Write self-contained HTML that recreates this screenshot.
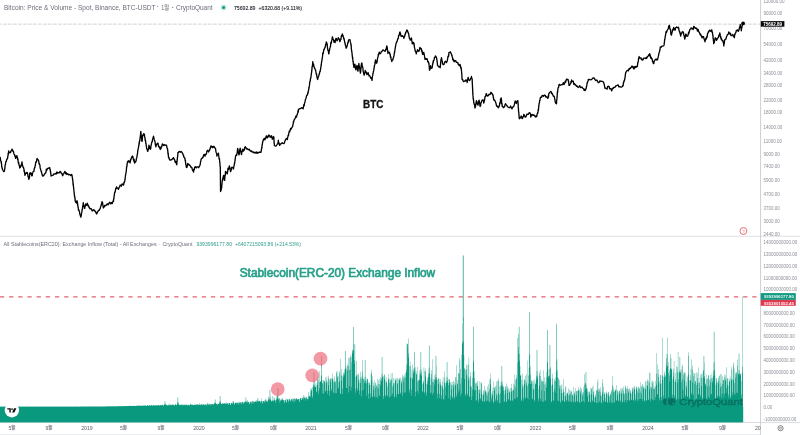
<!DOCTYPE html>
<html><head><meta charset="utf-8"><title>chart</title>
<style>
html,body{margin:0;padding:0;background:#fff;}
body{width:800px;height:435px;overflow:hidden;font-family:"Liberation Sans",sans-serif;}
svg{display:block;position:absolute;left:0;top:0;}
text{font-family:"Liberation Sans",sans-serif;}
</style></head><body>
<svg width="800" height="435" viewBox="0 0 800 435" style="will-change:transform">
<rect width="800" height="435" fill="#ffffff"/>

<!-- separators / axes -->
<line x1="0" y1="434.6" x2="760" y2="434.6" stroke="#e4e6ea" stroke-width="0.8"/>
<line x1="0" y1="236.3" x2="800" y2="236.3" stroke="#dfe1e6" stroke-width="1"/>
<line x1="0" y1="422.4" x2="800" y2="422.4" stroke="#d3d6dc" stroke-width="0.9"/>
<line x1="760.6" y1="0" x2="760.6" y2="435" stroke="#bfc2c9" stroke-width="0.8"/>

<!-- top dashed price line -->
<line x1="-2" y1="24.15" x2="760" y2="24.15" stroke="#cfcfcf" stroke-width="0.9" stroke-dasharray="3.8 1.2"/>

<!-- BTC price line -->
<path d="M0.00,159.17 L0.22,157.45 L0.44,159.91 L0.65,160.09 L0.87,161.05 L1.09,162.09 L1.29,161.81 L1.44,163.84 L1.59,164.28 L1.74,167.08 L1.88,166.82 L2.03,167.31 L2.18,168.24 L2.33,168.86 L2.48,169.48 L3.08,170.54 L3.82,171.68 L4.31,171.14 L4.44,171.08 L4.57,169.38 L4.69,168.65 L4.82,168.82 L4.95,167.23 L5.07,165.61 L5.20,164.94 L5.33,164.56 L5.46,164.59 L5.70,162.24 L6.03,161.42 L6.37,161.46 L6.70,159.30 L7.03,158.88 L7.37,158.87 L7.62,157.79 L7.79,156.57 L7.97,156.09 L8.15,153.44 L8.32,154.57 L8.50,152.30 L8.67,150.92 L9.10,152.04 L9.83,152.86 L10.54,152.50 L10.84,151.21 L11.14,151.13 L11.44,150.23 L11.74,150.40 L12.04,149.15 L12.38,149.60 L12.73,151.07 L13.07,150.98 L13.41,151.31 L13.76,153.20 L14.06,154.04 L14.35,154.34 L14.65,154.79 L14.95,156.35 L15.25,155.73 L15.55,158.35 L16.24,157.63 L16.93,155.56 L17.21,157.40 L17.42,157.56 L17.62,159.64 L17.83,158.68 L18.03,160.22 L18.24,162.23 L18.44,163.42 L18.65,162.19 L18.87,164.01 L19.16,165.44 L19.44,165.64 L19.72,168.04 L20.01,166.94 L20.34,167.43 L20.67,165.61 L21.01,166.49 L21.34,164.66 L21.67,163.58 L22.01,161.80 L22.26,164.81 L22.51,165.02 L22.75,165.89 L22.99,167.03 L23.23,167.34 L23.48,167.52 L23.72,168.27 L23.92,169.15 L24.10,171.55 L24.27,170.45 L24.45,171.94 L24.63,173.01 L24.80,174.28 L24.98,175.40 L25.29,174.12 L25.71,172.99 L26.13,173.40 L26.56,173.46 L26.98,172.35 L27.23,172.50 L27.43,173.01 L27.64,174.31 L27.84,174.81 L28.05,176.43 L28.25,176.18 L28.46,177.71 L28.66,178.41 L28.86,179.36 L29.04,178.26 L29.21,178.52 L29.39,177.39 L29.57,176.50 L29.74,173.27 L29.92,173.45 L30.14,172.57 L30.70,174.07 L31.27,173.10 L31.83,175.92 L32.24,175.69 L32.54,173.19 L32.84,172.56 L33.14,171.84 L33.43,171.58 L33.73,171.15 L33.98,171.14 L34.19,168.82 L34.41,168.63 L34.63,167.33 L34.85,167.58 L35.07,165.99 L35.32,165.56 L35.58,162.99 L35.83,162.75 L36.09,161.45 L36.34,162.21 L36.60,160.75 L36.85,159.22 L37.12,158.36 L37.58,159.79 L38.03,159.74 L38.48,160.36 L38.89,162.14 L39.09,163.98 L39.30,163.39 L39.50,164.05 L39.71,164.49 L39.91,165.25 L40.11,167.43 L40.32,168.54 L40.52,168.82 L40.75,169.92 L40.98,170.64 L41.21,171.53 L41.44,171.23 L41.67,172.85 L41.90,174.12 L42.14,174.36 L42.37,175.44 L42.60,176.07 L43.15,175.75 L43.72,175.88 L44.28,174.29 L44.77,173.72 L45.15,173.58 L45.53,172.65 L45.91,172.57 L46.29,169.27 L46.78,170.41 L47.29,168.74 L47.81,168.43 L48.40,168.25 L49.09,167.85 L49.66,167.57 L49.82,167.84 L49.99,169.74 L50.15,169.30 L50.31,170.28 L50.48,171.83 L50.64,171.77 L50.80,174.34 L50.96,174.64 L51.13,176.11 L51.29,175.67 L51.70,175.63 L52.38,175.43 L53.06,175.24 L53.85,173.89 L54.66,174.17 L55.43,173.43 L56.15,174.03 L56.87,171.90 L57.57,173.25 L58.25,172.66 L58.93,172.95 L59.52,172.45 L60.11,171.44 L60.70,171.83 L61.20,173.20 L61.70,173.34 L62.20,174.41 L62.70,175.75 L63.26,174.10 L63.82,173.34 L64.39,172.31 L64.96,171.38 L65.56,173.71 L66.15,172.63 L66.89,174.48 L67.76,173.77 L68.53,174.76 L69.20,174.52 L69.88,174.58 L70.64,175.47 L71.47,174.47 L71.98,174.93 L72.10,175.98 L72.22,176.75 L72.33,177.60 L72.45,178.05 L72.57,179.39 L72.69,179.11 L72.80,181.20 L72.92,181.36 L73.04,183.87 L73.16,184.87 L73.26,183.58 L73.36,185.87 L73.46,186.58 L73.56,186.83 L73.66,188.83 L73.76,189.03 L73.86,189.01 L73.96,190.95 L74.05,191.93 L74.15,193.00 L74.25,192.96 L74.35,195.15 L74.46,196.12 L74.61,195.69 L74.76,196.92 L74.90,198.22 L75.05,198.76 L75.20,201.27 L75.35,201.08 L75.50,201.12 L75.64,202.16 L76.01,202.41 L76.47,202.98 L76.94,200.78 L77.25,200.96 L77.36,202.13 L77.48,202.63 L77.60,204.85 L77.72,204.07 L77.84,205.86 L77.96,206.34 L78.08,207.55 L78.20,207.19 L78.46,210.11 L78.72,209.65 L78.98,210.62 L79.23,210.80 L79.49,211.81 L79.76,213.58 L80.04,214.73 L80.33,215.42 L80.61,216.59 L80.89,217.10 L81.07,216.08 L81.22,215.76 L81.37,214.70 L81.51,213.33 L81.66,213.02 L81.81,212.52 L81.96,210.90 L82.11,209.60 L82.26,209.46 L82.42,209.37 L82.58,207.04 L82.74,206.24 L82.90,205.32 L83.06,205.39 L83.24,202.54 L83.54,204.93 L83.84,206.36 L84.14,205.80 L84.44,208.26 L84.73,208.30 L84.96,206.67 L85.19,206.33 L85.43,204.24 L85.66,204.05 L86.38,205.35 L87.25,203.23 L87.84,205.43 L88.09,204.94 L88.34,206.56 L88.60,206.76 L88.85,206.29 L89.36,207.87 L90.09,208.93 L90.81,208.53 L91.45,209.03 L92.08,210.86 L92.72,210.79 L93.56,209.76 L94.40,210.15 L95.05,211.55 L95.56,211.35 L96.08,213.08 L96.64,213.97 L97.37,212.40 L98.10,211.07 L98.59,210.20 L99.01,210.30 L99.43,210.14 L99.86,208.92 L100.27,208.32 L100.57,206.77 L100.86,206.45 L101.16,205.06 L101.45,204.31 L101.75,202.78 L102.05,201.73 L102.31,202.15 L102.51,202.59 L102.70,203.58 L102.90,205.60 L103.09,205.93 L103.38,207.97 L104.14,206.84 L104.90,205.27 L105.67,205.78 L106.43,205.01 L107.19,203.80 L108.06,204.81 L108.93,203.28 L109.79,202.26 L110.64,203.84 L111.50,202.56 L112.24,203.52 L112.97,201.50 L113.36,200.40 L113.49,201.42 L113.63,198.69 L113.76,198.70 L113.89,198.68 L114.03,196.86 L114.16,195.83 L114.29,195.07 L114.43,194.69 L114.56,192.65 L114.69,192.75 L114.89,191.85 L115.21,191.91 L115.54,189.54 L115.87,188.29 L116.19,188.61 L116.52,186.98 L117.18,187.94 L117.86,188.42 L118.50,189.26 L119.06,187.28 L119.62,186.98 L120.18,185.04 L120.81,185.06 L121.44,186.13 L122.08,183.94 L122.67,184.15 L123.23,184.49 L123.53,185.11 L123.79,183.96 L124.05,182.14 L124.31,182.58 L124.57,181.43 L124.82,180.92 L124.95,179.05 L125.07,179.82 L125.20,178.00 L125.33,176.74 L125.45,175.57 L125.58,174.87 L125.71,174.75 L125.84,173.07 L125.96,173.12 L126.09,171.89 L126.22,171.53 L126.35,170.27 L126.47,168.76 L126.60,166.61 L126.73,167.23 L126.85,166.69 L126.98,165.36 L127.11,164.74 L127.24,163.13 L127.46,162.33 L127.86,161.13 L128.27,161.94 L128.67,160.68 L129.07,161.03 L129.47,161.25 L129.85,162.67 L130.07,162.91 L130.29,161.35 L130.51,159.65 L130.73,160.28 L130.94,159.41 L131.23,158.25 L131.64,157.31 L132.04,156.76 L132.41,155.98 L132.69,157.00 L132.98,156.76 L133.26,159.21 L133.55,159.18 L133.83,161.17 L134.12,159.42 L134.40,162.07 L134.69,163.12 L135.03,162.27 L135.43,162.02 L135.83,161.42 L136.15,160.47 L136.33,158.81 L136.51,158.20 L136.68,158.13 L136.86,157.43 L137.04,155.72 L137.21,154.83 L137.38,154.03 L137.53,153.73 L137.68,151.37 L137.82,150.29 L137.97,150.42 L138.12,148.67 L138.27,148.15 L138.42,147.73 L138.56,147.12 L138.73,145.15 L138.91,145.58 L139.09,142.90 L139.26,143.64 L139.44,141.27 L139.62,140.60 L139.79,141.06 L139.92,139.43 L140.02,138.27 L140.12,137.62 L140.23,137.36 L140.33,136.10 L140.43,135.22 L140.53,135.09 L140.63,132.96 L140.74,132.23 L140.84,131.30 L140.93,133.16 L141.02,133.93 L141.11,135.03 L141.20,135.00 L141.29,135.81 L141.38,137.41 L141.47,137.44 L141.56,139.19 L141.65,140.01 L141.74,139.91 L141.83,141.24 L141.95,140.89 L142.09,141.30 L142.24,140.50 L142.38,138.24 L142.52,137.43 L142.66,135.23 L142.80,135.79 L143.26,134.91 L143.89,133.53 L144.23,135.20 L144.40,134.43 L144.58,136.26 L144.76,137.39 L144.93,137.30 L145.11,139.66 L145.29,140.68 L145.45,139.86 L145.59,140.73 L145.74,143.02 L145.89,143.47 L146.04,143.53 L146.19,145.06 L146.33,146.08 L146.48,146.94 L146.65,148.50 L147.06,148.99 L147.46,150.77 L147.86,151.30 L148.08,149.97 L148.30,149.38 L148.52,148.68 L148.74,147.37 L148.96,145.15 L149.19,146.14 L149.47,146.45 L149.76,148.38 L150.04,148.17 L150.33,149.33 L150.52,148.59 L150.70,148.66 L150.88,146.72 L151.05,145.53 L151.23,145.05 L151.41,143.64 L151.58,143.18 L151.81,142.19 L152.05,141.52 L152.29,141.76 L152.54,139.31 L152.78,138.76 L153.02,137.73 L153.26,137.47 L153.51,136.18 L153.77,137.38 L154.03,138.70 L154.29,139.97 L154.55,140.42 L154.81,140.96 L155.01,141.58 L155.19,143.43 L155.36,144.97 L155.54,145.06 L155.72,145.85 L155.89,146.90 L156.23,145.09 L156.56,144.70 L156.90,143.89 L157.23,143.45 L157.59,143.23 L157.97,143.22 L158.35,145.67 L158.73,146.88 L159.11,146.33 L159.51,147.60 L159.91,148.31 L160.32,149.48 L160.66,147.41 L161.00,148.73 L161.33,146.44 L161.67,146.82 L162.00,145.16 L162.34,143.99 L162.98,144.40 L163.72,145.65 L164.52,144.74 L165.42,145.08 L166.12,145.35 L166.58,145.26 L167.05,148.14 L167.44,148.43 L167.54,148.90 L167.64,150.63 L167.75,150.04 L167.85,151.55 L167.95,153.70 L168.05,154.07 L168.15,152.98 L168.26,153.88 L168.36,155.34 L168.55,157.69 L168.88,157.45 L169.22,158.46 L169.55,159.88 L169.89,159.67 L170.58,160.06 L171.31,159.94 L172.04,159.19 L172.77,158.62 L173.48,157.53 L173.94,159.08 L174.40,159.19 L174.87,161.18 L175.23,162.39 L175.57,161.40 L175.91,161.45 L176.26,163.28 L176.60,164.68 L176.76,164.72 L176.86,163.85 L176.95,161.65 L177.05,160.75 L177.14,161.29 L177.24,158.75 L177.33,159.38 L177.43,157.56 L177.52,157.36 L177.62,156.43 L177.71,155.58 L177.81,154.72 L177.90,152.55 L178.24,152.65 L178.77,151.72 L179.35,151.36 L180.21,152.26 L181.03,151.52 L181.60,151.91 L182.16,152.60 L182.72,153.60 L183.15,155.12 L183.49,154.86 L183.82,157.08 L184.15,157.31 L184.49,157.78 L184.82,157.84 L185.06,159.81 L185.24,161.00 L185.42,160.17 L185.59,163.12 L185.77,164.32 L185.95,164.29 L186.12,165.28 L186.30,167.12 L186.48,167.56 L186.65,166.95 L186.90,167.34 L187.18,166.39 L187.47,165.54 L187.75,163.49 L188.15,164.78 L188.91,164.28 L189.68,165.32 L190.29,165.75 L190.81,167.19 L191.32,167.11 L191.82,167.51 L192.25,169.23 L192.67,170.63 L193.10,170.22 L193.51,172.03 L193.80,170.40 L194.08,168.99 L194.37,169.58 L194.65,167.08 L194.94,167.51 L195.59,166.72 L196.32,167.91 L197.09,166.88 L197.92,166.81 L198.67,167.69 L199.26,166.39 L199.84,165.60 L200.13,164.44 L200.31,164.17 L200.48,162.00 L200.66,161.31 L200.84,161.10 L201.01,159.75 L201.19,158.96 L201.66,158.67 L202.29,157.99 L202.70,157.15 L202.98,157.62 L203.26,156.31 L203.55,155.60 L203.86,154.30 L204.27,154.77 L204.67,154.91 L205.05,156.25 L205.34,154.34 L205.62,154.38 L205.91,154.47 L206.19,154.21 L206.57,152.94 L206.97,150.85 L207.37,151.00 L207.92,150.20 L208.56,151.97 L208.96,150.96 L209.24,150.79 L209.53,150.63 L209.81,149.13 L210.14,148.95 L210.61,147.00 L211.07,145.87 L211.53,146.28 L212.00,147.33 L212.46,146.50 L212.92,147.72 L213.56,146.40 L214.25,146.69 L214.70,147.72 L214.99,147.89 L215.27,148.41 L215.56,148.67 L215.83,150.77 L216.05,151.95 L216.27,152.68 L216.48,153.31 L216.70,153.12 L216.92,156.11 L217.28,155.00 L217.80,154.21 L218.30,154.17 L218.47,153.24 L218.63,155.38 L218.80,156.21 L218.96,157.46 L219.12,159.02 L219.29,159.30 L219.45,158.57 L219.58,160.50 L219.67,161.78 L219.76,162.63 L219.85,162.53 L219.94,163.16 L220.03,165.60 L220.12,166.35 L220.21,166.99 L220.30,166.70 L220.31,170.04 L220.32,168.40 L220.33,170.35 L220.34,172.80 L220.35,172.29 L220.36,173.47 L220.37,173.38 L220.38,176.05 L220.39,175.10 L220.40,177.08 L220.41,177.90 L220.41,177.97 L220.42,180.22 L220.43,179.51 L220.44,180.92 L220.45,182.28 L220.46,182.91 L220.47,184.43 L220.48,185.65 L220.49,185.70 L220.50,186.42 L220.51,187.34 L220.52,188.35 L220.53,190.07 L220.54,190.25 L220.55,191.59 L220.68,191.16 L220.91,189.77 L221.14,190.09 L221.37,187.89 L221.58,187.75 L221.68,187.89 L221.78,185.19 L221.88,185.02 L221.99,183.06 L222.09,182.92 L222.19,181.33 L222.29,181.23 L222.39,180.21 L222.50,179.79 L222.65,179.92 L222.88,178.14 L223.12,177.53 L223.35,176.17 L223.58,175.33 L223.75,175.80 L223.93,176.00 L224.10,178.19 L224.28,180.17 L224.46,180.24 L224.60,179.68 L224.71,180.32 L224.81,177.97 L224.91,176.94 L225.01,175.63 L225.11,174.91 L225.22,174.52 L225.32,175.10 L225.42,172.76 L225.52,171.29 L225.84,171.70 L226.31,172.74 L226.77,172.47 L227.13,173.94 L227.31,173.46 L227.48,172.31 L227.66,171.62 L227.84,169.42 L228.01,168.25 L228.38,169.53 L228.85,168.62 L229.31,166.01 L229.65,167.17 L229.83,167.92 L230.00,169.17 L230.18,169.82 L230.36,170.20 L230.53,171.57 L230.83,171.14 L231.16,170.16 L231.50,168.06 L231.83,167.22 L232.24,167.50 L232.88,167.55 L233.38,169.08 L233.56,168.52 L233.74,167.32 L233.91,166.00 L234.09,165.42 L234.27,165.31 L234.44,163.10 L234.61,163.37 L234.75,162.33 L234.90,161.13 L235.04,161.07 L235.18,158.67 L235.32,158.94 L235.47,156.74 L235.65,155.98 L236.11,155.00 L236.58,155.29 L237.04,153.54 L237.16,153.36 L237.23,151.63 L237.30,152.27 L237.37,151.91 L237.44,149.89 L237.52,149.98 L237.59,148.33 L237.73,149.95 L237.88,149.60 L238.02,149.32 L238.17,152.35 L238.32,152.11 L238.47,152.36 L238.61,153.51 L238.76,153.72 L238.92,154.87 L239.10,153.35 L239.28,154.26 L239.45,152.80 L239.63,150.29 L239.81,149.52 L239.98,149.29 L240.17,148.09 L240.39,150.19 L240.61,151.10 L240.83,151.47 L241.05,152.50 L241.26,154.10 L241.48,154.59 L241.70,153.77 L241.92,151.88 L242.14,151.58 L242.36,149.59 L242.57,149.52 L242.95,149.11 L243.35,151.10 L243.75,150.53 L244.02,150.29 L244.24,150.09 L244.46,149.61 L244.68,147.34 L244.89,147.10 L245.11,146.69 L245.57,147.52 L246.04,147.55 L246.50,148.97 L247.25,148.70 L248.11,149.59 L248.58,149.75 L249.04,149.20 L249.50,149.60 L250.23,150.91 L251.06,151.32 L251.70,150.93 L252.21,152.16 L252.73,151.94 L253.32,151.84 L254.16,153.00 L255.00,152.23 L255.78,152.99 L256.54,152.02 L257.30,153.38 L258.03,152.29 L258.76,152.77 L259.57,151.99 L260.40,152.33 L260.81,151.84 L261.04,152.27 L261.28,150.54 L261.51,149.11 L261.70,148.05 L261.82,147.15 L261.94,148.01 L262.06,144.82 L262.17,144.60 L262.29,144.75 L262.41,144.24 L262.53,142.42 L262.65,142.18 L262.93,141.31 L263.21,140.61 L263.49,139.10 L263.78,139.37 L264.25,138.32 L264.89,139.89 L265.39,137.86 L265.80,138.48 L266.20,136.14 L266.71,135.83 L267.34,137.87 L267.84,136.86 L268.18,136.92 L268.53,135.03 L268.88,136.07 L269.30,135.53 L269.74,135.52 L270.18,137.22 L270.88,137.15 L271.52,135.74 L271.92,137.44 L272.32,139.15 L272.72,139.13 L273.13,137.71 L273.53,136.52 L273.73,137.56 L273.80,136.99 L273.87,137.62 L273.94,139.38 L274.01,139.99 L274.08,142.87 L274.15,142.64 L274.22,142.75 L274.29,143.52 L274.37,145.59 L274.44,145.55 L275.27,146.06 L275.92,146.19 L276.38,145.54 L276.85,144.78 L277.28,144.00 L277.63,144.00 L277.97,143.45 L278.32,140.28 L278.61,142.93 L278.86,142.63 L279.11,144.27 L279.37,143.75 L279.62,145.36 L279.98,144.98 L280.38,144.10 L280.79,143.82 L281.44,143.54 L282.26,142.74 L283.08,143.37 L283.89,143.56 L284.44,142.88 L284.81,141.35 L285.19,140.57 L285.57,139.84 L286.23,138.68 L287.09,138.27 L287.41,139.49 L287.65,137.24 L287.88,136.72 L288.11,135.26 L288.34,135.82 L288.57,135.27 L288.81,133.02 L289.04,132.66 L289.30,130.92 L289.71,131.88 L290.11,130.49 L290.60,128.50 L291.12,129.22 L291.64,127.87 L292.17,127.18 L292.69,126.40 L292.87,124.81 L293.03,124.02 L293.18,123.94 L293.34,122.58 L293.49,121.07 L293.64,122.09 L294.04,119.96 L294.74,119.16 L294.99,118.20 L295.24,118.31 L295.49,117.64 L295.73,116.26 L296.52,117.07 L296.91,114.89 L297.14,114.81 L297.37,113.87 L297.61,113.33 L297.84,112.80 L298.07,110.24 L298.30,111.97 L298.53,109.24 L298.79,109.23 L299.36,108.87 L299.98,108.57 L300.71,108.67 L301.45,107.68 L302.27,107.98 L303.09,108.91 L303.45,106.97 L303.68,106.01 L303.92,104.54 L304.16,105.86 L304.39,104.49 L304.63,102.64 L304.86,102.30 L305.07,101.45 L305.28,99.86 L305.49,99.57 L305.70,99.06 L305.91,98.40 L306.12,98.02 L306.40,96.31 L306.86,95.19 L307.33,95.02 L307.78,93.52 L307.95,92.20 L308.13,93.00 L308.31,91.05 L308.48,90.52 L308.66,90.00 L308.84,87.89 L309.01,88.23 L309.16,87.21 L309.31,85.94 L309.46,85.40 L309.61,83.70 L309.75,82.03 L309.90,82.26 L310.05,80.93 L310.20,81.29 L310.35,79.98 L310.49,78.53 L310.64,78.05 L310.79,78.08 L310.94,77.04 L311.09,75.61 L311.23,74.77 L311.38,73.38 L311.53,72.60 L311.64,72.21 L311.75,70.82 L311.86,70.22 L311.98,68.34 L312.09,67.06 L312.20,66.14 L312.31,66.13 L312.42,66.47 L312.53,65.48 L312.65,63.06 L312.76,61.78 L313.00,63.89 L313.29,64.51 L313.57,64.08 L313.86,66.63 L314.19,66.85 L314.59,68.46 L314.99,68.58 L315.33,69.79 L315.51,70.27 L315.69,70.26 L315.86,71.65 L316.04,72.22 L316.22,74.16 L316.39,73.76 L316.59,74.26 L316.87,76.67 L317.16,77.85 L317.44,78.91 L317.73,79.52 L318.01,77.25 L318.30,76.97 L318.58,76.22 L318.86,75.73 L319.13,73.58 L319.34,74.01 L319.56,73.33 L319.78,71.60 L320.00,71.48 L320.22,71.35 L320.39,69.67 L320.54,69.49 L320.69,68.57 L320.84,67.26 L320.98,66.35 L321.13,64.94 L321.28,65.18 L321.43,63.09 L321.57,62.05 L321.70,62.14 L321.83,60.24 L321.95,60.16 L322.08,59.71 L322.21,58.14 L322.34,57.26 L322.46,56.94 L322.59,55.94 L322.72,53.44 L322.89,52.72 L323.18,53.72 L323.46,52.20 L323.75,49.77 L324.03,49.28 L324.32,49.39 L324.60,47.83 L324.88,47.99 L325.17,46.86 L325.42,46.29 L325.64,44.26 L325.86,44.64 L326.08,44.62 L326.29,41.90 L326.51,42.50 L326.68,42.72 L326.83,43.38 L326.97,43.77 L327.12,43.89 L327.27,44.97 L327.42,47.01 L327.57,48.05 L327.71,49.11 L327.87,49.81 L328.05,50.65 L328.22,50.60 L328.40,50.94 L328.58,52.81 L328.75,53.90 L328.93,53.43 L329.11,51.42 L329.28,51.24 L329.46,49.69 L329.63,49.94 L329.81,48.22 L329.99,47.96 L330.16,47.42 L330.34,46.40 L330.52,46.38 L330.69,43.77 L330.88,42.35 L331.09,43.45 L331.30,42.90 L331.51,42.04 L331.72,40.36 L331.93,39.67 L332.14,38.50 L332.37,36.78 L332.77,38.09 L333.17,39.64 L333.57,39.69 L333.97,42.18 L334.38,40.63 L334.78,42.21 L335.08,42.67 L335.37,40.62 L335.65,39.39 L335.94,38.38 L336.38,38.65 L337.02,40.85 L337.54,40.02 L337.94,39.29 L338.34,37.76 L338.70,38.53 L338.99,38.86 L339.27,39.00 L339.56,40.18 L339.84,41.49 L340.13,41.37 L340.41,39.65 L340.69,39.19 L340.98,39.26 L341.26,36.57 L341.55,35.41 L341.83,36.11 L342.12,34.88 L342.40,33.93 L342.69,35.04 L342.97,35.47 L343.26,36.92 L343.54,37.18 L343.77,38.84 L343.99,38.34 L344.21,39.46 L344.43,40.98 L344.65,41.45 L344.87,43.14 L345.04,43.50 L345.22,44.03 L345.40,45.44 L345.57,45.81 L345.75,45.97 L345.92,47.15 L346.10,48.27 L346.32,47.77 L346.53,47.29 L346.75,46.99 L346.97,45.86 L347.19,45.85 L347.42,44.63 L347.70,42.75 L347.99,43.18 L348.27,42.00 L348.56,40.00 L349.12,39.86 L349.75,39.77 L350.02,39.76 L350.19,41.18 L350.37,41.63 L350.55,42.73 L350.72,42.90 L350.89,44.27 L350.99,44.65 L351.09,46.27 L351.20,45.51 L351.30,47.82 L351.40,49.35 L351.50,49.78 L351.61,50.25 L351.71,51.54 L351.81,51.46 L351.92,52.37 L352.04,53.59 L352.16,54.63 L352.27,56.30 L352.39,55.89 L352.51,58.11 L352.63,57.20 L352.75,58.64 L352.87,60.06 L352.99,61.79 L353.11,61.44 L353.23,61.43 L353.34,63.95 L353.46,64.52 L353.58,64.68 L353.70,65.60 L353.82,66.73 L353.99,67.37 L354.22,66.90 L354.46,64.53 L354.69,65.96 L354.91,64.04 L355.05,64.69 L355.19,66.31 L355.33,66.81 L355.48,68.89 L355.62,69.27 L355.76,69.14 L355.91,69.86 L356.08,68.90 L356.26,68.13 L356.43,67.95 L356.61,66.15 L356.79,66.85 L356.95,65.50 L357.09,66.34 L357.23,68.00 L357.38,66.89 L357.52,68.45 L357.66,70.42 L357.80,70.90 L357.94,71.13 L358.06,70.53 L358.18,68.94 L358.29,68.34 L358.41,66.62 L358.53,65.37 L358.65,66.67 L358.77,64.24 L358.89,63.50 L359.04,65.74 L359.19,66.39 L359.34,66.17 L359.49,67.05 L359.65,68.25 L359.80,68.53 L359.95,70.47 L360.10,71.07 L360.26,71.95 L360.41,73.20 L360.52,72.28 L360.63,72.16 L360.74,71.06 L360.85,67.90 L360.96,68.84 L361.08,66.53 L361.19,65.42 L361.30,66.03 L361.41,64.14 L361.52,63.52 L361.63,63.60 L361.80,62.94 L361.97,63.66 L362.15,65.40 L362.33,66.91 L362.50,67.30 L362.68,66.73 L362.86,68.24 L363.03,69.47 L363.21,71.74 L363.39,71.97 L363.56,72.82 L363.74,73.95 L363.92,73.78 L364.09,75.21 L364.29,75.02 L364.51,73.12 L364.73,72.92 L364.95,72.45 L365.17,70.43 L365.39,70.88 L365.66,71.48 L365.95,72.53 L366.23,72.11 L366.52,73.59 L366.97,74.68 L367.60,73.58 L368.12,72.56 L368.52,74.07 L368.93,75.72 L369.42,75.41 L370.06,76.36 L370.57,78.09 L370.90,77.63 L371.23,78.41 L371.57,78.62 L371.90,79.70 L372.06,80.45 L372.20,78.42 L372.35,76.80 L372.49,76.09 L372.63,75.86 L372.77,75.50 L372.91,73.55 L373.09,73.69 L373.26,71.96 L373.44,71.67 L373.62,70.90 L373.79,70.08 L373.97,68.47 L374.14,67.77 L374.30,67.36 L374.45,65.21 L374.60,65.34 L374.74,64.69 L374.89,64.18 L375.04,62.53 L375.19,61.54 L375.34,60.88 L375.52,59.90 L375.81,61.12 L376.09,62.41 L376.38,63.17 L376.66,63.09 L376.82,62.89 L376.97,60.93 L377.12,61.90 L377.27,60.08 L377.42,59.73 L377.56,57.90 L377.71,57.72 L377.86,57.21 L378.07,56.71 L378.35,54.21 L378.64,54.90 L378.92,53.34 L379.21,52.10 L379.85,53.61 L380.47,53.62 L380.88,52.82 L381.28,51.73 L381.68,51.57 L382.30,50.79 L382.94,50.01 L383.58,50.06 L384.21,51.00 L384.85,51.01 L385.48,50.98 L385.81,49.23 L386.14,49.40 L386.48,47.57 L386.81,45.98 L387.04,47.27 L387.19,47.04 L387.33,48.89 L387.47,50.24 L387.61,50.17 L387.75,51.21 L387.90,53.47 L388.28,52.48 L388.92,51.86 L389.34,52.36 L389.55,52.62 L389.77,53.50 L389.99,54.70 L390.21,54.02 L390.43,57.17 L390.65,56.31 L390.86,57.17 L391.08,59.18 L391.30,59.69 L391.52,59.67 L391.75,61.52 L392.39,59.94 L392.99,59.59 L393.17,58.15 L393.35,57.74 L393.52,57.71 L393.70,56.64 L393.88,55.88 L394.05,55.43 L394.23,53.87 L394.38,52.55 L394.53,51.93 L394.67,52.39 L394.82,50.37 L394.97,49.69 L395.12,48.51 L395.27,47.86 L395.41,47.10 L395.60,45.91 L395.82,44.94 L396.03,43.63 L396.25,42.71 L396.47,42.71 L396.69,42.08 L397.05,41.38 L397.45,39.96 L397.85,38.55 L398.14,38.71 L398.35,37.83 L398.57,35.48 L398.79,36.21 L399.01,35.19 L399.23,35.07 L399.67,32.34 L400.06,31.92 L400.28,34.23 L400.50,33.30 L400.72,34.92 L400.93,35.54 L401.15,36.47 L401.47,35.86 L401.87,36.18 L402.27,36.22 L402.68,35.73 L403.08,36.53 L403.48,36.78 L403.88,38.34 L404.29,36.90 L404.69,36.46 L405.07,33.83 L405.35,34.30 L405.64,32.41 L405.92,32.59 L406.21,31.64 L406.77,30.03 L407.41,30.30 L407.70,31.60 L407.92,32.01 L408.14,32.95 L408.35,32.81 L408.57,33.81 L408.79,34.38 L409.01,36.12 L409.23,37.73 L409.45,38.08 L409.66,38.65 L409.88,38.74 L410.24,40.19 L410.88,39.08 L411.36,37.87 L411.58,38.84 L411.80,40.68 L412.01,41.17 L412.23,43.82 L412.45,43.56 L412.93,42.73 L413.57,42.48 L413.88,44.31 L414.03,43.42 L414.18,45.51 L414.33,46.17 L414.47,47.77 L414.62,48.01 L414.77,48.24 L414.92,49.78 L415.12,50.33 L415.52,51.77 L415.92,51.85 L416.32,53.87 L416.73,51.70 L417.13,51.27 L417.53,49.70 L418.16,50.83 L418.80,51.40 L419.08,50.65 L419.37,50.31 L419.65,48.45 L419.93,47.38 L420.43,48.78 L421.07,48.44 L421.44,48.96 L421.66,51.11 L421.88,51.72 L422.09,50.74 L422.31,52.66 L422.53,54.34 L423.12,53.91 L423.76,52.34 L423.97,54.54 L424.15,53.78 L424.32,55.06 L424.50,56.19 L424.68,56.98 L424.85,58.43 L425.03,59.46 L425.69,58.50 L426.41,59.28 L426.88,58.59 L427.36,59.69 L427.80,61.82 L428.20,61.50 L428.60,62.98 L428.86,62.78 L428.95,63.79 L429.04,64.80 L429.13,65.89 L429.22,66.43 L429.31,67.57 L429.40,68.92 L429.49,70.19 L429.59,70.22 L429.82,69.73 L430.05,69.04 L430.28,66.79 L430.51,65.58 L431.08,67.99 L431.77,68.36 L432.18,67.24 L432.36,66.56 L432.53,64.78 L432.71,63.59 L432.88,63.89 L433.06,61.75 L433.24,62.54 L433.41,60.55 L433.59,60.34 L433.77,60.53 L434.08,59.70 L434.49,57.43 L434.89,57.56 L435.44,55.99 L436.13,56.87 L436.63,58.22 L436.75,59.82 L436.87,59.34 L436.99,61.01 L437.11,61.60 L437.23,61.54 L437.34,63.22 L437.46,65.25 L437.58,65.03 L438.17,66.11 L438.80,66.97 L439.57,66.35 L440.14,67.77 L440.25,67.07 L440.37,66.24 L440.49,65.15 L440.61,63.02 L440.72,62.04 L440.84,61.01 L440.96,60.03 L441.08,59.22 L441.19,59.57 L441.31,59.01 L441.47,57.77 L441.64,59.67 L441.82,59.10 L442.00,60.64 L442.17,61.05 L442.35,61.50 L442.52,63.55 L442.95,64.32 L443.58,64.62 L444.02,64.33 L444.31,63.15 L444.59,62.89 L444.87,61.71 L445.22,61.69 L445.85,61.31 L446.42,62.66 L446.71,62.00 L446.99,61.66 L447.28,60.67 L447.56,59.22 L447.79,57.74 L448.01,56.06 L448.23,56.46 L448.45,56.58 L448.67,55.88 L448.90,52.55 L449.42,52.59 L449.95,52.14 L450.47,51.89 L450.99,53.48 L451.44,54.14 L451.65,54.63 L451.87,55.84 L452.09,55.62 L452.31,56.93 L452.53,57.86 L452.84,59.95 L453.24,58.99 L453.65,60.78 L454.14,61.69 L454.78,60.48 L455.35,61.06 L455.82,60.79 L456.30,62.32 L457.02,62.42 L457.70,62.86 L457.98,62.93 L458.27,64.27 L458.55,64.14 L458.84,65.05 L459.40,65.77 L460.03,64.44 L460.33,65.62 L460.55,66.00 L460.76,67.67 L460.98,68.54 L461.20,67.54 L461.41,70.29 L461.47,70.20 L461.53,71.13 L461.59,71.61 L461.65,73.10 L461.71,72.71 L461.77,73.88 L461.83,74.75 L461.89,76.39 L461.95,77.73 L462.01,78.50 L462.07,79.14 L462.13,79.37 L462.53,79.26 L463.26,81.29 L463.98,81.50 L464.62,81.01 L465.26,81.13 L465.83,79.87 L466.29,80.63 L466.76,80.22 L467.19,82.52 L467.39,81.21 L467.58,79.85 L467.78,79.76 L467.97,77.88 L468.17,77.35 L468.62,79.75 L469.09,79.77 L469.55,80.66 L469.95,80.15 L470.33,79.26 L470.71,78.13 L471.09,78.46 L471.45,76.52 L471.63,77.96 L471.80,78.18 L471.98,78.97 L472.16,78.78 L472.22,79.68 L472.26,82.97 L472.31,83.83 L472.35,83.38 L472.40,84.56 L472.44,85.91 L472.49,85.69 L472.53,88.52 L472.58,87.45 L472.62,88.57 L472.67,88.66 L472.71,91.94 L472.76,91.81 L472.80,93.81 L472.85,92.87 L472.89,94.71 L472.95,95.42 L473.07,96.40 L473.19,98.44 L473.30,99.33 L473.42,99.90 L473.54,99.55 L473.66,101.34 L473.78,102.55 L473.90,102.89 L474.09,103.78 L474.31,104.59 L474.53,104.50 L474.74,106.17 L474.96,108.00 L475.18,107.05 L475.36,106.98 L475.53,106.63 L475.71,104.21 L475.89,104.18 L476.06,102.21 L476.24,102.09 L476.42,100.65 L476.69,101.62 L476.97,102.76 L477.26,103.76 L477.54,104.66 L477.79,103.56 L478.01,105.10 L478.23,102.92 L478.45,101.48 L478.67,100.93 L478.89,100.71 L479.07,100.19 L479.25,101.48 L479.43,102.32 L479.60,103.91 L479.78,103.89 L479.96,105.62 L480.13,106.43 L480.34,105.87 L480.55,105.97 L480.77,104.24 L480.99,102.53 L481.21,102.69 L481.43,101.70 L481.81,100.77 L482.21,100.15 L482.61,100.49 L482.92,99.81 L483.21,100.83 L483.49,101.19 L483.78,103.13 L484.02,102.40 L484.20,100.99 L484.38,99.82 L484.55,100.16 L484.73,99.43 L484.91,96.91 L485.08,96.64 L485.32,96.73 L485.72,96.19 L486.12,93.74 L486.53,93.82 L486.93,95.49 L487.33,95.34 L487.74,96.15 L488.38,95.45 L489.02,94.28 L489.65,94.59 L490.29,94.13 L490.92,92.30 L491.56,92.88 L492.20,94.22 L492.76,94.27 L492.94,95.67 L493.11,95.51 L493.29,97.73 L493.47,97.10 L493.64,99.84 L493.82,99.11 L494.02,99.78 L494.66,100.30 L495.26,101.29 L495.55,102.09 L495.83,102.80 L496.12,103.91 L496.40,105.46 L496.93,106.32 L497.57,106.10 L498.20,107.84 L498.84,106.91 L499.13,106.39 L499.31,105.43 L499.48,105.76 L499.66,103.37 L499.84,102.60 L500.01,103.59 L500.19,103.01 L500.37,101.87 L500.54,99.00 L500.72,99.17 L500.89,98.86 L501.05,98.16 L501.18,97.85 L501.31,99.63 L501.43,99.57 L501.56,100.79 L501.69,103.85 L501.82,103.91 L501.94,103.30 L502.07,104.16 L502.20,106.42 L502.65,106.37 L503.39,107.72 L504.06,107.19 L504.41,106.67 L504.75,106.14 L505.10,104.42 L505.62,103.78 L506.30,104.82 L506.98,105.76 L507.68,106.66 L508.42,107.29 L509.15,107.62 L509.88,107.51 L510.61,106.00 L511.31,107.93 L512.01,108.84 L512.59,107.57 L513.11,106.71 L513.62,106.71 L514.09,105.53 L514.38,104.36 L514.66,103.25 L514.95,102.00 L515.23,100.85 L515.80,102.47 L516.43,103.47 L516.88,101.34 L517.28,101.22 L517.68,100.62 L517.84,100.59 L517.91,101.25 L517.98,102.40 L518.05,102.29 L518.12,104.43 L518.19,105.16 L518.26,107.58 L518.32,107.82 L518.39,107.82 L518.46,108.95 L518.53,111.06 L518.61,111.88 L518.68,111.78 L518.76,112.46 L518.84,112.43 L518.91,114.11 L518.99,115.12 L519.07,115.62 L519.14,118.24 L519.22,116.64 L519.30,118.73 L519.76,118.36 L520.22,117.61 L520.68,117.71 L521.14,115.92 L521.61,117.15 L522.07,118.51 L522.47,118.52 L522.80,117.32 L523.14,116.22 L523.47,116.67 L523.81,114.35 L524.50,115.25 L525.19,117.23 L525.79,116.98 L526.38,115.70 L527.03,114.04 L527.89,114.33 L528.52,114.05 L528.92,113.08 L529.32,112.78 L529.73,113.16 L529.98,112.88 L530.19,113.07 L530.39,113.93 L530.60,114.53 L530.80,117.08 L531.44,114.53 L532.13,115.43 L532.85,114.44 L533.59,115.23 L534.37,115.28 L535.27,117.00 L536.06,116.01 L536.64,116.70 L537.23,113.98 L537.50,113.09 L537.70,113.39 L537.89,112.50 L538.09,111.03 L538.28,109.07 L538.42,110.47 L538.52,108.96 L538.63,107.95 L538.74,106.36 L538.85,106.33 L538.95,104.59 L539.06,104.12 L539.22,103.07 L539.40,103.20 L539.58,101.11 L539.76,100.31 L539.95,100.45 L540.13,98.95 L540.31,97.90 L540.84,97.05 L541.48,97.25 L542.12,95.49 L542.75,95.64 L543.56,96.26 L544.29,95.23 L544.81,95.13 L545.33,95.57 L545.96,97.15 L546.60,96.83 L547.24,97.21 L547.87,98.42 L548.05,97.30 L548.22,97.80 L548.40,95.29 L548.58,96.53 L548.75,94.01 L548.93,93.74 L549.11,93.24 L549.70,92.27 L550.33,91.98 L550.75,91.49 L551.15,91.74 L551.56,93.65 L552.15,93.28 L552.79,94.69 L553.42,96.39 L554.06,96.23 L554.29,96.80 L554.47,97.31 L554.64,98.78 L554.82,99.74 L555.00,99.64 L555.17,101.83 L555.35,101.76 L555.83,103.40 L556.39,103.64 L556.47,103.75 L556.55,102.76 L556.63,101.27 L556.71,100.29 L556.79,99.78 L556.87,99.55 L556.95,98.43 L557.03,96.90 L557.11,96.12 L557.19,96.11 L557.27,92.96 L557.35,93.59 L557.45,91.69 L557.60,92.38 L557.74,90.20 L557.88,89.58 L558.02,88.01 L558.16,87.90 L558.31,87.56 L558.57,87.33 L559.03,84.50 L559.49,84.31 L560.00,85.30 L560.83,85.00 L561.65,84.69 L562.48,84.71 L563.31,82.70 L564.02,84.58 L564.71,82.98 L565.23,81.15 L565.69,82.19 L566.14,80.16 L566.59,79.10 L567.31,79.68 L567.96,79.41 L568.13,79.69 L568.31,80.85 L568.49,80.84 L568.66,81.65 L568.84,84.18 L569.02,85.35 L569.24,85.44 L569.88,84.77 L570.47,83.56 L570.75,82.89 L571.04,81.47 L571.32,82.51 L571.61,80.02 L572.15,80.96 L572.79,81.31 L573.24,81.09 L573.65,84.18 L574.05,83.42 L574.60,83.84 L575.24,85.10 L575.88,85.02 L576.51,86.31 L577.29,86.05 L578.11,87.47 L578.93,87.02 L579.73,85.62 L580.49,87.57 L581.22,87.51 L581.99,87.03 L582.86,88.30 L583.63,88.75 L584.17,90.46 L584.71,89.28 L585.26,90.46 L585.82,89.09 L586.12,88.76 L586.33,87.27 L586.54,86.54 L586.75,86.05 L586.96,83.99 L587.17,82.65 L587.38,83.07 L587.60,81.90 L587.84,81.40 L588.07,80.92 L588.30,79.45 L588.68,79.90 L589.48,79.44 L590.30,79.65 L591.12,79.81 L591.93,79.23 L592.66,78.24 L593.39,77.87 L593.96,77.81 L594.50,78.63 L595.06,79.81 L595.93,80.56 L596.79,79.95 L597.52,81.37 L598.25,82.58 L599.03,82.49 L599.84,80.83 L600.72,81.47 L601.62,81.16 L602.46,81.51 L603.27,81.95 L603.66,82.47 L603.87,83.56 L604.08,83.99 L604.29,84.55 L604.50,85.78 L604.71,86.83 L604.92,88.22 L605.49,88.14 L606.36,88.62 L607.13,89.07 L607.59,86.64 L608.06,86.34 L608.52,86.13 L608.90,86.59 L609.28,86.67 L609.65,88.90 L610.03,88.96 L610.88,88.63 L611.72,90.91 L612.40,88.43 L613.00,88.65 L613.59,87.51 L614.28,87.48 L615.01,87.28 L615.75,85.80 L616.51,85.82 L617.28,85.32 L618.04,84.85 L618.80,86.85 L619.57,86.63 L620.30,86.83 L621.03,87.09 L621.63,87.06 L622.14,86.65 L622.66,85.49 L623.12,85.92 L623.38,82.86 L623.63,81.99 L623.89,82.28 L624.15,80.31 L624.41,80.69 L624.61,79.40 L624.73,79.38 L624.85,78.37 L624.97,78.10 L625.09,76.94 L625.21,76.28 L625.32,74.88 L625.44,74.37 L625.56,73.08 L626.24,71.73 L626.94,70.69 L627.66,70.19 L628.39,70.85 L629.04,68.57 L629.55,69.29 L630.07,67.90 L630.59,68.21 L631.28,67.26 L631.97,66.01 L632.51,67.08 L633.03,66.47 L633.55,68.73 L634.06,68.96 L634.58,66.60 L635.09,67.76 L635.62,66.38 L636.43,66.99 L637.12,66.05 L637.27,66.58 L637.43,65.68 L637.58,64.38 L637.74,62.81 L637.89,63.15 L638.04,62.60 L638.21,61.13 L638.39,60.67 L638.57,58.67 L638.74,58.31 L638.92,57.59 L639.10,56.54 L639.78,58.26 L640.48,57.88 L640.98,57.93 L641.44,59.68 L641.91,59.11 L642.44,60.08 L643.04,59.68 L643.63,58.12 L644.36,58.19 L645.19,58.12 L645.84,58.67 L646.30,57.34 L646.77,58.25 L647.32,56.82 L648.14,55.86 L648.90,54.61 L649.16,55.97 L649.42,54.79 L649.68,53.72 L649.92,54.39 L650.16,55.24 L650.40,55.66 L650.64,58.09 L650.88,57.87 L651.28,57.52 L651.69,58.88 L652.09,58.77 L652.55,61.38 L653.01,62.22 L653.47,63.69 L653.85,63.41 L654.19,60.80 L654.52,60.83 L654.85,60.38 L655.27,59.57 L656.11,58.98 L656.95,60.21 L657.39,59.42 L657.72,59.18 L658.04,57.37 L658.36,56.38 L658.55,55.31 L658.73,54.52 L658.91,53.37 L659.08,52.78 L659.26,52.49 L659.44,51.57 L659.61,51.29 L659.83,50.26 L660.07,49.06 L660.30,46.95 L660.53,47.28 L661.03,47.43 L661.84,46.10 L662.65,46.18 L663.48,45.93 L663.96,45.26 L664.07,44.89 L664.18,43.54 L664.28,43.57 L664.39,41.56 L664.50,41.42 L664.60,40.27 L664.73,39.05 L664.87,39.56 L665.01,37.97 L665.16,37.44 L665.30,35.93 L665.44,35.77 L665.58,34.82 L665.80,33.42 L666.14,31.45 L666.47,32.43 L666.81,31.50 L667.14,30.31 L667.69,29.64 L668.20,28.83 L668.43,28.01 L668.67,26.30 L668.90,26.09 L669.13,25.49 L669.36,25.38 L669.59,26.00 L669.83,28.81 L670.06,28.85 L670.25,29.08 L670.39,29.84 L670.53,29.74 L670.67,30.97 L670.81,32.68 L670.96,34.64 L671.10,33.29 L671.28,34.26 L671.51,35.13 L671.74,33.48 L671.98,32.43 L672.21,32.11 L672.50,30.33 L672.78,29.44 L673.07,29.21 L673.35,28.45 L673.72,27.44 L674.12,30.06 L674.53,28.58 L674.89,29.13 L675.24,30.04 L675.59,27.60 L675.93,27.59 L676.63,26.96 L677.36,27.82 L678.19,27.21 L678.64,27.93 L678.93,29.52 L679.21,31.14 L679.50,31.38 L679.77,32.72 L680.00,32.14 L680.23,34.39 L680.46,34.63 L680.70,36.07 L681.03,34.03 L681.36,33.32 L681.70,33.60 L682.03,32.24 L682.51,31.75 L683.14,31.83 L683.55,33.00 L683.72,34.29 L683.90,35.33 L684.08,35.32 L684.25,36.35 L684.43,37.77 L684.61,37.58 L684.83,39.19 L685.11,37.67 L685.40,36.72 L685.68,34.64 L685.97,33.99 L686.44,35.14 L686.92,36.22 L687.34,36.02 L687.66,36.20 L687.99,35.19 L688.31,34.07 L688.61,32.11 L688.90,33.54 L689.18,31.51 L689.47,31.26 L689.77,29.53 L690.23,29.23 L690.69,28.95 L691.16,27.85 L691.81,28.73 L692.50,28.50 L693.12,29.66 L693.71,26.38 L694.31,26.73 L695.06,28.30 L695.79,27.96 L696.33,28.54 L696.87,28.33 L697.46,31.09 L698.15,29.53 L698.81,31.78 L699.27,32.33 L699.74,33.58 L700.20,34.76 L700.55,34.07 L700.88,34.84 L701.22,36.01 L701.55,35.87 L702.02,37.93 L702.71,36.50 L703.31,36.62 L703.57,36.58 L703.83,38.24 L704.09,38.66 L704.35,39.90 L704.61,40.05 L704.95,41.74 L705.41,39.80 L705.87,38.20 L706.30,39.14 L706.56,37.62 L706.82,36.35 L707.08,37.43 L707.34,35.20 L707.60,33.44 L707.87,33.09 L708.15,32.93 L708.43,31.65 L708.72,31.83 L709.00,30.85 L709.62,30.09 L710.25,31.30 L710.94,31.19 L711.63,29.88 L711.92,30.42 L712.10,32.24 L712.27,32.82 L712.45,32.41 L712.62,33.89 L712.79,34.87 L712.90,35.97 L713.00,36.44 L713.10,38.78 L713.20,38.05 L713.30,38.87 L713.41,40.67 L713.51,40.15 L713.61,41.59 L713.71,43.64 L713.85,42.64 L714.06,42.10 L714.27,42.58 L714.48,41.26 L714.69,40.11 L714.90,39.37 L715.11,37.85 L715.36,37.89 L715.90,38.25 L716.44,40.43 L716.98,39.70 L717.52,38.36 L718.06,37.85 L718.49,37.13 L718.82,35.30 L719.15,34.85 L719.49,35.66 L719.82,32.89 L720.08,34.33 L720.34,36.32 L720.59,37.52 L720.85,36.61 L721.11,39.21 L721.48,38.73 L722.17,40.72 L722.82,40.51 L723.02,40.84 L723.21,42.43 L723.41,43.19 L723.60,43.13 L723.80,45.87 L724.02,43.54 L724.25,43.71 L724.48,41.70 L724.71,39.89 L724.93,39.51 L725.16,39.35 L725.47,39.06 L725.93,39.05 L726.39,37.10 L726.85,36.07 L727.32,34.64 L727.78,34.69 L728.24,34.16 L728.81,31.97 L729.39,33.49 L729.90,33.09 L730.20,34.45 L730.50,33.36 L730.80,34.87 L731.10,35.70 L731.50,35.26 L732.19,35.02 L732.87,34.44 L733.41,36.21 L733.95,36.87 L734.39,37.77 L734.59,35.67 L734.78,34.09 L734.98,34.50 L735.17,33.57 L735.41,32.92 L735.87,32.55 L736.33,30.50 L736.80,30.69 L737.47,29.88 L738.16,31.27 L738.59,31.19 L738.92,29.79 L739.26,29.19 L739.52,27.20 L739.75,26.85 L739.98,26.54 L740.21,24.72 L740.42,24.81 L740.60,27.60 L740.78,27.35 L740.95,27.47 L741.13,28.21 L741.31,30.78 L741.48,28.13 L741.66,28.27 L741.83,28.05 L742.01,26.33 L742.19,26.20 L742.37,24.22 L742.73,24.11 L743.11,23.31" fill="none" stroke="#000" stroke-width="1.32" stroke-linejoin="round" stroke-linecap="round"/>
<circle cx="743.1" cy="23.4" r="1.9" fill="#000"/>
<text x="363.1" y="107.7" font-size="10.4" font-weight="bold" fill="#141414" stroke="#141414" stroke-width="0.3" textLength="20.3" lengthAdjust="spacingAndGlyphs">BTC</text>

<!-- inflow bars -->
<path d="M-0.02,422.2V407.0h0.34V422.2ZM0.29,422.2V407.0h0.34V422.2ZM0.60,422.2V407.0h0.34V422.2ZM0.91,422.2V407.0h0.34V422.2ZM1.22,422.2V406.9h0.34V422.2ZM1.52,422.2V407.0h0.34V422.2ZM1.83,422.2V407.0h0.34V422.2ZM2.14,422.2V406.9h0.34V422.2ZM2.45,422.2V407.0h0.34V422.2ZM2.76,422.2V407.0h0.34V422.2ZM3.06,422.2V407.0h0.34V422.2ZM3.37,422.2V406.9h0.34V422.2ZM3.68,422.2V407.0h0.34V422.2ZM3.99,422.2V407.0h0.34V422.2ZM4.30,422.2V407.0h0.34V422.2ZM4.60,422.2V407.0h0.34V422.2ZM4.91,422.2V407.0h0.34V422.2ZM5.22,422.2V407.0h0.34V422.2ZM5.53,422.2V407.0h0.34V422.2ZM5.84,422.2V407.0h0.34V422.2ZM6.14,422.2V407.0h0.34V422.2ZM6.45,422.2V407.0h0.34V422.2ZM6.76,422.2V406.9h0.34V422.2ZM7.07,422.2V407.0h0.34V422.2ZM7.38,422.2V407.0h0.34V422.2ZM7.68,422.2V407.0h0.34V422.2ZM7.99,422.2V407.0h0.34V422.2ZM8.30,422.2V407.0h0.34V422.2ZM8.61,422.2V407.0h0.34V422.2ZM8.92,422.2V406.9h0.34V422.2ZM9.22,422.2V407.0h0.34V422.2ZM9.53,422.2V406.9h0.34V422.2ZM9.84,422.2V406.9h0.34V422.2ZM10.15,422.2V407.0h0.34V422.2ZM10.46,422.2V407.0h0.34V422.2ZM10.76,422.2V406.9h0.34V422.2ZM11.07,422.2V407.0h0.34V422.2ZM11.38,422.2V406.9h0.34V422.2ZM11.69,422.2V406.9h0.34V422.2ZM12.00,422.2V406.9h0.34V422.2ZM12.30,422.2V407.0h0.34V422.2ZM12.61,422.2V407.0h0.34V422.2ZM12.92,422.2V407.0h0.34V422.2ZM13.23,422.2V406.9h0.34V422.2ZM13.54,422.2V406.9h0.34V422.2ZM13.84,422.2V406.9h0.34V422.2ZM14.15,422.2V406.9h0.34V422.2ZM14.46,422.2V407.0h0.34V422.2ZM14.77,422.2V407.0h0.34V422.2ZM15.08,422.2V406.9h0.34V422.2ZM15.38,422.2V407.0h0.34V422.2ZM15.69,422.2V407.0h0.34V422.2ZM16.00,422.2V406.9h0.34V422.2ZM16.31,422.2V406.9h0.34V422.2ZM16.62,422.2V407.0h0.34V422.2ZM16.92,422.2V407.0h0.34V422.2ZM17.23,422.2V406.9h0.34V422.2ZM17.54,422.2V406.9h0.34V422.2ZM17.85,422.2V406.9h0.34V422.2ZM18.16,422.2V406.9h0.34V422.2ZM18.46,422.2V406.9h0.34V422.2ZM18.77,422.2V407.0h0.34V422.2ZM19.08,422.2V406.9h0.34V422.2ZM19.39,422.2V406.9h0.34V422.2ZM19.70,422.2V406.9h0.34V422.2ZM20.00,422.2V406.9h0.34V422.2ZM20.31,422.2V406.9h0.34V422.2ZM20.62,422.2V406.9h0.34V422.2ZM20.93,422.2V407.0h0.34V422.2ZM21.24,422.2V407.0h0.34V422.2ZM21.54,422.2V406.9h0.34V422.2ZM21.85,422.2V406.9h0.34V422.2ZM22.16,422.2V406.9h0.34V422.2ZM22.47,422.2V406.9h0.34V422.2ZM22.78,422.2V406.9h0.34V422.2ZM23.08,422.2V406.9h0.34V422.2ZM23.39,422.2V407.0h0.34V422.2ZM23.70,422.2V406.9h0.34V422.2ZM24.01,422.2V406.9h0.34V422.2ZM24.32,422.2V406.9h0.34V422.2ZM24.62,422.2V406.9h0.34V422.2ZM24.93,422.2V406.9h0.34V422.2ZM25.24,422.2V406.9h0.34V422.2ZM25.55,422.2V407.0h0.34V422.2ZM25.86,422.2V406.9h0.34V422.2ZM26.16,422.2V406.9h0.34V422.2ZM26.47,422.2V406.9h0.34V422.2ZM26.78,422.2V406.9h0.34V422.2ZM27.09,422.2V406.9h0.34V422.2ZM27.40,422.2V407.0h0.34V422.2ZM27.70,422.2V406.9h0.34V422.2ZM28.01,422.2V406.9h0.34V422.2ZM28.32,422.2V406.9h0.34V422.2ZM28.63,422.2V406.9h0.34V422.2ZM28.94,422.2V406.9h0.34V422.2ZM29.24,422.2V406.9h0.34V422.2ZM29.55,422.2V407.0h0.34V422.2ZM29.86,422.2V406.9h0.34V422.2ZM30.17,422.2V406.9h0.34V422.2ZM30.48,422.2V406.9h0.34V422.2ZM30.78,422.2V406.9h0.34V422.2ZM31.09,422.2V406.9h0.34V422.2ZM31.40,422.2V406.9h0.34V422.2ZM31.71,422.2V407.0h0.34V422.2ZM32.02,422.2V407.0h0.34V422.2ZM32.32,422.2V406.9h0.34V422.2ZM32.63,422.2V406.9h0.34V422.2ZM32.94,422.2V406.9h0.34V422.2ZM33.25,422.2V406.9h0.34V422.2ZM33.56,422.2V406.9h0.34V422.2ZM33.86,422.2V406.9h0.34V422.2ZM34.17,422.2V406.9h0.34V422.2ZM34.48,422.2V406.9h0.34V422.2ZM34.79,422.2V406.9h0.34V422.2ZM35.10,422.2V406.9h0.34V422.2ZM35.40,422.2V406.9h0.34V422.2ZM35.71,422.2V406.9h0.34V422.2ZM36.02,422.2V406.9h0.34V422.2ZM36.33,422.2V406.9h0.34V422.2ZM36.64,422.2V406.9h0.34V422.2ZM36.94,422.2V406.9h0.34V422.2ZM37.25,422.2V406.9h0.34V422.2ZM37.56,422.2V406.9h0.34V422.2ZM37.87,422.2V406.9h0.34V422.2ZM38.18,422.2V406.9h0.34V422.2ZM38.48,422.2V406.9h0.34V422.2ZM38.79,422.2V406.9h0.34V422.2ZM39.10,422.2V406.9h0.34V422.2ZM39.41,422.2V406.9h0.34V422.2ZM39.72,422.2V406.9h0.34V422.2ZM40.02,422.2V406.9h0.34V422.2ZM40.33,422.2V406.9h0.34V422.2ZM40.64,422.2V406.9h0.34V422.2ZM40.95,422.2V406.9h0.34V422.2ZM41.26,422.2V406.9h0.34V422.2ZM41.56,422.2V406.9h0.34V422.2ZM41.87,422.2V406.9h0.34V422.2ZM42.18,422.2V406.9h0.34V422.2ZM42.49,422.2V406.9h0.34V422.2ZM42.80,422.2V406.9h0.34V422.2ZM43.10,422.2V406.9h0.34V422.2ZM43.41,422.2V406.9h0.34V422.2ZM43.72,422.2V406.9h0.34V422.2ZM44.03,422.2V406.9h0.34V422.2ZM44.34,422.2V406.9h0.34V422.2ZM44.64,422.2V406.9h0.34V422.2ZM44.95,422.2V406.9h0.34V422.2ZM45.26,422.2V406.9h0.34V422.2ZM45.57,422.2V406.9h0.34V422.2ZM45.88,422.2V406.9h0.34V422.2ZM46.18,422.2V406.9h0.34V422.2ZM46.49,422.2V406.9h0.34V422.2ZM46.80,422.2V406.9h0.34V422.2ZM47.11,422.2V406.9h0.34V422.2ZM47.42,422.2V406.9h0.34V422.2ZM47.72,422.2V406.9h0.34V422.2ZM48.03,422.2V406.9h0.34V422.2ZM48.34,422.2V406.9h0.34V422.2ZM48.65,422.2V406.9h0.34V422.2ZM48.96,422.2V406.9h0.34V422.2ZM49.26,422.2V406.9h0.34V422.2ZM49.57,422.2V406.9h0.34V422.2ZM49.88,422.2V406.9h0.34V422.2ZM50.19,422.2V406.9h0.34V422.2ZM50.50,422.2V406.9h0.34V422.2ZM50.80,422.2V406.9h0.34V422.2ZM51.11,422.2V406.9h0.34V422.2ZM51.42,422.2V406.9h0.34V422.2ZM51.73,422.2V406.9h0.34V422.2ZM52.04,422.2V406.9h0.34V422.2ZM52.34,422.2V406.9h0.34V422.2ZM52.65,422.2V406.9h0.34V422.2ZM52.96,422.2V406.9h0.34V422.2ZM53.27,422.2V406.9h0.34V422.2ZM53.58,422.2V406.9h0.34V422.2ZM53.88,422.2V406.9h0.34V422.2ZM54.19,422.2V406.9h0.34V422.2ZM54.50,422.2V406.9h0.34V422.2ZM54.81,422.2V406.9h0.34V422.2ZM55.12,422.2V406.9h0.34V422.2ZM55.42,422.2V406.9h0.34V422.2ZM55.73,422.2V406.9h0.34V422.2ZM56.04,422.2V406.9h0.34V422.2ZM56.35,422.2V406.9h0.34V422.2ZM56.66,422.2V406.9h0.34V422.2ZM56.96,422.2V406.9h0.34V422.2ZM57.27,422.2V406.9h0.34V422.2ZM57.58,422.2V406.9h0.34V422.2ZM57.89,422.2V406.9h0.34V422.2ZM58.20,422.2V406.9h0.34V422.2ZM58.50,422.2V406.9h0.34V422.2ZM58.81,422.2V406.9h0.34V422.2ZM59.12,422.2V406.9h0.34V422.2ZM59.43,422.2V406.9h0.34V422.2ZM59.74,422.2V406.9h0.34V422.2ZM60.04,422.2V406.9h0.34V422.2ZM60.35,422.2V406.9h0.34V422.2ZM60.66,422.2V406.9h0.34V422.2ZM60.97,422.2V406.9h0.34V422.2ZM61.28,422.2V406.9h0.34V422.2ZM61.58,422.2V406.9h0.34V422.2ZM61.89,422.2V406.9h0.34V422.2ZM62.20,422.2V406.9h0.34V422.2ZM62.51,422.2V406.9h0.34V422.2ZM62.82,422.2V406.9h0.34V422.2ZM63.12,422.2V406.9h0.34V422.2ZM63.43,422.2V406.9h0.34V422.2ZM63.74,422.2V406.9h0.34V422.2ZM64.05,422.2V406.9h0.34V422.2ZM64.36,422.2V406.9h0.34V422.2ZM64.66,422.2V406.9h0.34V422.2ZM64.97,422.2V406.9h0.34V422.2ZM65.28,422.2V406.9h0.34V422.2ZM65.59,422.2V406.9h0.34V422.2ZM65.90,422.2V406.9h0.34V422.2ZM66.20,422.2V406.9h0.34V422.2ZM66.51,422.2V406.9h0.34V422.2ZM66.82,422.2V406.9h0.34V422.2ZM67.13,422.2V406.9h0.34V422.2ZM67.44,422.2V406.9h0.34V422.2ZM67.74,422.2V406.9h0.34V422.2ZM68.05,422.2V406.9h0.34V422.2ZM68.36,422.2V406.9h0.34V422.2ZM68.67,422.2V406.9h0.34V422.2ZM68.98,422.2V406.9h0.34V422.2ZM69.28,422.2V406.9h0.34V422.2ZM69.59,422.2V406.9h0.34V422.2ZM69.90,422.2V406.9h0.34V422.2ZM70.21,422.2V406.9h0.34V422.2ZM70.52,422.2V406.9h0.34V422.2ZM70.82,422.2V406.9h0.34V422.2ZM71.13,422.2V406.9h0.34V422.2ZM71.44,422.2V406.9h0.34V422.2ZM71.75,422.2V406.9h0.34V422.2ZM72.06,422.2V406.9h0.34V422.2ZM72.36,422.2V406.9h0.34V422.2ZM72.67,422.2V406.9h0.34V422.2ZM72.98,422.2V406.9h0.34V422.2ZM73.29,422.2V406.9h0.34V422.2ZM73.60,422.2V406.9h0.34V422.2ZM73.90,422.2V406.9h0.34V422.2ZM74.21,422.2V406.9h0.34V422.2ZM74.52,422.2V406.9h0.34V422.2ZM74.83,422.2V406.9h0.34V422.2ZM75.14,422.2V406.9h0.34V422.2ZM75.44,422.2V406.9h0.34V422.2ZM75.75,422.2V406.8h0.34V422.2ZM76.06,422.2V406.9h0.34V422.2ZM76.37,422.2V406.9h0.34V422.2ZM76.68,422.2V406.8h0.34V422.2ZM76.98,422.2V406.9h0.34V422.2ZM77.29,422.2V406.9h0.34V422.2ZM77.60,422.2V406.9h0.34V422.2ZM77.91,422.2V406.9h0.34V422.2ZM78.22,422.2V406.9h0.34V422.2ZM78.52,422.2V406.9h0.34V422.2ZM78.83,422.2V406.9h0.34V422.2ZM79.14,422.2V406.9h0.34V422.2ZM79.45,422.2V406.9h0.34V422.2ZM79.76,422.2V406.9h0.34V422.2ZM80.06,422.2V406.9h0.34V422.2ZM80.37,422.2V406.9h0.34V422.2ZM80.68,422.2V406.8h0.34V422.2ZM80.99,422.2V406.8h0.34V422.2ZM81.30,422.2V406.9h0.34V422.2ZM81.60,422.2V406.9h0.34V422.2ZM81.91,422.2V406.8h0.34V422.2ZM82.22,422.2V406.8h0.34V422.2ZM82.53,422.2V406.8h0.34V422.2ZM82.84,422.2V406.9h0.34V422.2ZM83.14,422.2V406.8h0.34V422.2ZM83.45,422.2V406.9h0.34V422.2ZM83.76,422.2V406.9h0.34V422.2ZM84.07,422.2V406.8h0.34V422.2ZM84.38,422.2V406.8h0.34V422.2ZM84.68,422.2V406.8h0.34V422.2ZM84.99,422.2V406.9h0.34V422.2ZM85.30,422.2V406.8h0.34V422.2ZM85.61,422.2V406.9h0.34V422.2ZM85.92,422.2V406.9h0.34V422.2ZM86.22,422.2V406.8h0.34V422.2ZM86.53,422.2V406.8h0.34V422.2ZM86.84,422.2V406.8h0.34V422.2ZM87.15,422.2V406.9h0.34V422.2ZM87.46,422.2V406.8h0.34V422.2ZM87.76,422.2V406.9h0.34V422.2ZM88.07,422.2V406.9h0.34V422.2ZM88.38,422.2V406.8h0.34V422.2ZM88.69,422.2V406.8h0.34V422.2ZM89.00,422.2V406.8h0.34V422.2ZM89.30,422.2V406.9h0.34V422.2ZM89.61,422.2V406.8h0.34V422.2ZM89.92,422.2V406.9h0.34V422.2ZM90.23,422.2V406.8h0.34V422.2ZM90.54,422.2V406.8h0.34V422.2ZM90.84,422.2V406.8h0.34V422.2ZM91.15,422.2V406.8h0.34V422.2ZM91.46,422.2V406.8h0.34V422.2ZM91.77,422.2V406.8h0.34V422.2ZM92.08,422.2V406.9h0.34V422.2ZM92.38,422.2V406.9h0.34V422.2ZM92.69,422.2V406.8h0.34V422.2ZM93.00,422.2V406.8h0.34V422.2ZM93.31,422.2V406.8h0.34V422.2ZM93.62,422.2V406.8h0.34V422.2ZM93.92,422.2V406.8h0.34V422.2ZM94.23,422.2V406.9h0.34V422.2ZM94.54,422.2V406.9h0.34V422.2ZM94.85,422.2V406.8h0.34V422.2ZM95.16,422.2V406.8h0.34V422.2ZM95.46,422.2V406.8h0.34V422.2ZM95.77,422.2V406.8h0.34V422.2ZM96.08,422.2V406.8h0.34V422.2ZM96.39,422.2V406.9h0.34V422.2ZM96.70,422.2V406.9h0.34V422.2ZM97.00,422.2V406.8h0.34V422.2ZM97.31,422.2V406.8h0.34V422.2ZM97.62,422.2V406.8h0.34V422.2ZM97.93,422.2V406.8h0.34V422.2ZM98.24,422.2V406.8h0.34V422.2ZM98.54,422.2V406.9h0.34V422.2ZM98.85,422.2V406.9h0.34V422.2ZM99.16,422.2V406.8h0.34V422.2ZM99.47,422.2V406.7h0.34V422.2ZM99.78,422.2V406.8h0.34V422.2ZM100.08,422.2V406.8h0.34V422.2ZM100.39,422.2V406.7h0.34V422.2ZM100.70,422.2V406.9h0.34V422.2ZM101.01,422.2V406.9h0.34V422.2ZM101.32,422.2V406.7h0.34V422.2ZM101.62,422.2V406.8h0.34V422.2ZM101.93,422.2V406.7h0.34V422.2ZM102.24,422.2V406.7h0.34V422.2ZM102.55,422.2V406.7h0.34V422.2ZM102.86,422.2V406.8h0.34V422.2ZM103.16,422.2V406.7h0.34V422.2ZM103.47,422.2V406.7h0.34V422.2ZM103.78,422.2V406.7h0.34V422.2ZM104.09,422.2V406.7h0.34V422.2ZM104.40,422.2V406.7h0.34V422.2ZM104.70,422.2V406.7h0.34V422.2ZM105.01,422.2V406.8h0.34V422.2ZM105.32,422.2V406.8h0.34V422.2ZM105.63,422.2V406.7h0.34V422.2ZM105.94,422.2V406.7h0.34V422.2ZM106.24,422.2V406.7h0.34V422.2ZM106.55,422.2V406.5h0.34V422.2ZM106.86,422.2V406.6h0.34V422.2ZM107.17,422.2V406.8h0.34V422.2ZM107.48,422.2V406.7h0.34V422.2ZM107.78,422.2V406.6h0.34V422.2ZM108.09,422.2V406.6h0.34V422.2ZM108.40,422.2V406.6h0.34V422.2ZM108.71,422.2V406.6h0.34V422.2ZM109.02,422.2V406.5h0.34V422.2ZM109.32,422.2V406.7h0.34V422.2ZM109.63,422.2V406.6h0.34V422.2ZM109.94,422.2V406.5h0.34V422.2ZM110.25,422.2V406.5h0.34V422.2ZM110.56,422.2V406.6h0.34V422.2ZM110.86,422.2V406.5h0.34V422.2ZM111.17,422.2V406.5h0.34V422.2ZM111.48,422.2V406.5h0.34V422.2ZM111.79,422.2V406.7h0.34V422.2ZM112.10,422.2V406.4h0.34V422.2ZM112.40,422.2V406.5h0.34V422.2ZM112.71,422.2V406.5h0.34V422.2ZM113.02,422.2V406.5h0.34V422.2ZM113.33,422.2V406.4h0.34V422.2ZM113.64,422.2V406.6h0.34V422.2ZM113.94,422.2V406.5h0.34V422.2ZM114.25,422.2V406.4h0.34V422.2ZM114.56,422.2V406.4h0.34V422.2ZM114.87,422.2V406.4h0.34V422.2ZM115.18,422.2V406.4h0.34V422.2ZM115.48,422.2V406.5h0.34V422.2ZM115.79,422.2V406.5h0.34V422.2ZM116.10,422.2V406.6h0.34V422.2ZM116.41,422.2V406.4h0.34V422.2ZM116.72,422.2V406.4h0.34V422.2ZM117.02,422.2V406.3h0.34V422.2ZM117.33,422.2V406.2h0.34V422.2ZM117.64,422.2V406.4h0.34V422.2ZM117.95,422.2V406.6h0.34V422.2ZM118.26,422.2V406.5h0.34V422.2ZM118.56,422.2V406.3h0.34V422.2ZM118.87,422.2V406.3h0.34V422.2ZM119.18,422.2V406.3h0.34V422.2ZM119.49,422.2V406.3h0.34V422.2ZM119.80,422.2V406.3h0.34V422.2ZM120.10,422.2V406.4h0.34V422.2ZM120.41,422.2V406.5h0.34V422.2ZM120.72,422.2V406.2h0.34V422.2ZM121.03,422.2V405.9h0.34V422.2ZM121.34,422.2V406.2h0.34V422.2ZM121.64,422.2V406.3h0.34V422.2ZM121.95,422.2V406.3h0.34V422.2ZM122.26,422.2V406.5h0.34V422.2ZM122.57,422.2V406.5h0.34V422.2ZM122.88,422.2V406.2h0.34V422.2ZM123.18,422.2V406.2h0.34V422.2ZM123.49,422.2V406.2h0.34V422.2ZM123.80,422.2V406.2h0.34V422.2ZM124.11,422.2V406.1h0.34V422.2ZM124.42,422.2V406.3h0.34V422.2ZM124.72,422.2V406.2h0.34V422.2ZM125.03,422.2V406.1h0.34V422.2ZM125.34,422.2V406.1h0.34V422.2ZM125.65,422.2V406.1h0.34V422.2ZM125.96,422.2V406.2h0.34V422.2ZM126.26,422.2V406.2h0.34V422.2ZM126.57,422.2V406.2h0.34V422.2ZM126.88,422.2V406.4h0.34V422.2ZM127.19,422.2V406.1h0.34V422.2ZM127.50,422.2V406.0h0.34V422.2ZM127.80,422.2V406.0h0.34V422.2ZM128.11,422.2V405.9h0.34V422.2ZM128.42,422.2V406.0h0.34V422.2ZM128.73,422.2V406.1h0.34V422.2ZM129.04,422.2V406.3h0.34V422.2ZM129.34,422.2V405.9h0.34V422.2ZM129.65,422.2V406.0h0.34V422.2ZM129.96,422.2V406.0h0.34V422.2ZM130.27,422.2V405.2h0.34V422.2ZM130.58,422.2V406.0h0.34V422.2ZM130.88,422.2V406.1h0.34V422.2ZM131.19,422.2V406.0h0.34V422.2ZM131.50,422.2V406.0h0.34V422.2ZM131.81,422.2V406.0h0.34V422.2ZM132.12,422.2V405.9h0.34V422.2ZM132.42,422.2V405.9h0.34V422.2ZM132.73,422.2V405.7h0.34V422.2ZM133.04,422.2V406.2h0.34V422.2ZM133.35,422.2V406.0h0.34V422.2ZM133.66,422.2V405.8h0.34V422.2ZM133.96,422.2V405.7h0.34V422.2ZM134.27,422.2V405.9h0.34V422.2ZM134.58,422.2V405.8h0.34V422.2ZM134.89,422.2V405.9h0.34V422.2ZM135.20,422.2V406.2h0.34V422.2ZM135.50,422.2V406.0h0.34V422.2ZM135.81,422.2V405.7h0.34V422.2ZM136.12,422.2V405.7h0.34V422.2ZM136.43,422.2V405.7h0.34V422.2ZM136.74,422.2V405.7h0.34V422.2ZM137.04,422.2V405.6h0.34V422.2ZM137.35,422.2V406.0h0.34V422.2ZM137.66,422.2V405.8h0.34V422.2ZM137.97,422.2V405.6h0.34V422.2ZM138.28,422.2V405.6h0.34V422.2ZM138.58,422.2V405.7h0.34V422.2ZM138.89,422.2V405.8h0.34V422.2ZM139.20,422.2V405.5h0.34V422.2ZM139.51,422.2V405.8h0.34V422.2ZM139.82,422.2V405.8h0.34V422.2ZM140.12,422.2V405.6h0.34V422.2ZM140.43,422.2V405.7h0.34V422.2ZM140.74,422.2V405.6h0.34V422.2ZM141.05,422.2V405.7h0.34V422.2ZM141.36,422.2V405.7h0.34V422.2ZM141.66,422.2V405.8h0.34V422.2ZM141.97,422.2V405.8h0.34V422.2ZM142.28,422.2V405.7h0.34V422.2ZM142.59,422.2V405.4h0.34V422.2ZM142.90,422.2V405.4h0.34V422.2ZM143.20,422.2V405.5h0.34V422.2ZM143.51,422.2V405.7h0.34V422.2ZM143.82,422.2V405.8h0.34V422.2ZM144.13,422.2V405.6h0.34V422.2ZM144.44,422.2V405.5h0.34V422.2ZM144.74,422.2V405.5h0.34V422.2ZM145.05,422.2V405.5h0.34V422.2ZM145.36,422.2V405.4h0.34V422.2ZM145.67,422.2V405.4h0.34V422.2ZM145.98,422.2V406.0h0.34V422.2ZM146.28,422.2V406.0h0.34V422.2ZM146.59,422.2V405.4h0.34V422.2ZM146.90,422.2V405.4h0.34V422.2ZM147.21,422.2V405.2h0.34V422.2ZM147.52,422.2V405.2h0.34V422.2ZM147.82,422.2V405.5h0.34V422.2ZM148.13,422.2V405.8h0.34V422.2ZM148.44,422.2V406.0h0.34V422.2ZM148.75,422.2V405.3h0.34V422.2ZM149.06,422.2V405.4h0.34V422.2ZM149.36,422.2V405.1h0.34V422.2ZM149.67,422.2V405.3h0.34V422.2ZM149.98,422.2V405.5h0.34V422.2ZM150.29,422.2V405.7h0.34V422.2ZM150.60,422.2V405.7h0.34V422.2ZM150.90,422.2V405.3h0.34V422.2ZM151.21,422.2V405.1h0.34V422.2ZM151.52,422.2V405.3h0.34V422.2ZM151.83,422.2V405.0h0.34V422.2ZM152.14,422.2V405.3h0.34V422.2ZM152.44,422.2V405.9h0.34V422.2ZM152.75,422.2V406.0h0.34V422.2ZM153.06,422.2V405.1h0.34V422.2ZM153.37,422.2V405.1h0.34V422.2ZM153.68,422.2V405.4h0.34V422.2ZM153.98,422.2V405.3h0.34V422.2ZM154.29,422.2V405.3h0.34V422.2ZM154.60,422.2V405.9h0.34V422.2ZM154.91,422.2V405.5h0.34V422.2ZM155.22,422.2V405.4h0.34V422.2ZM155.52,422.2V405.0h0.34V422.2ZM155.83,422.2V405.2h0.34V422.2ZM156.14,422.2V405.4h0.34V422.2ZM156.45,422.2V405.0h0.34V422.2ZM156.76,422.2V405.8h0.34V422.2ZM157.06,422.2V405.4h0.34V422.2ZM157.37,422.2V405.2h0.34V422.2ZM157.68,422.2V405.2h0.34V422.2ZM157.99,422.2V404.9h0.34V422.2ZM158.30,422.2V405.2h0.34V422.2ZM158.60,422.2V405.1h0.34V422.2ZM158.91,422.2V405.8h0.34V422.2ZM159.22,422.2V405.5h0.34V422.2ZM159.53,422.2V405.3h0.34V422.2ZM159.84,422.2V405.4h0.34V422.2ZM160.14,422.2V404.9h0.34V422.2ZM160.45,422.2V405.2h0.34V422.2ZM160.76,422.2V404.9h0.34V422.2ZM161.07,422.2V405.5h0.34V422.2ZM161.38,422.2V405.5h0.34V422.2ZM161.68,422.2V404.6h0.34V422.2ZM161.99,422.2V404.8h0.34V422.2ZM162.30,422.2V404.9h0.34V422.2ZM162.61,422.2V405.0h0.34V422.2ZM162.92,422.2V404.8h0.34V422.2ZM163.22,422.2V405.8h0.34V422.2ZM163.53,422.2V405.9h0.34V422.2ZM163.84,422.2V404.9h0.34V422.2ZM164.15,422.2V404.4h0.34V422.2ZM164.46,422.2V403.7h0.34V422.2ZM164.68,422.2V401.0h0.5V422.2ZM165.07,422.2V403.5h0.34V422.2ZM165.38,422.2V404.3h0.34V422.2ZM165.69,422.2V404.8h0.34V422.2ZM166.00,422.2V405.0h0.34V422.2ZM166.30,422.2V404.9h0.34V422.2ZM166.61,422.2V404.7h0.34V422.2ZM166.92,422.2V405.0h0.34V422.2ZM167.23,422.2V405.3h0.34V422.2ZM167.54,422.2V405.4h0.34V422.2ZM167.84,422.2V405.9h0.34V422.2ZM168.15,422.2V404.7h0.34V422.2ZM168.46,422.2V404.8h0.34V422.2ZM168.77,422.2V404.9h0.34V422.2ZM169.08,422.2V404.9h0.34V422.2ZM169.38,422.2V403.4h0.34V422.2ZM169.69,422.2V405.5h0.34V422.2ZM170.00,422.2V405.4h0.34V422.2ZM170.31,422.2V404.0h0.34V422.2ZM170.62,422.2V405.0h0.34V422.2ZM170.92,422.2V405.2h0.34V422.2ZM171.23,422.2V404.9h0.34V422.2ZM171.54,422.2V404.7h0.34V422.2ZM171.85,422.2V405.0h0.34V422.2ZM172.16,422.2V404.6h0.34V422.2ZM172.46,422.2V404.8h0.34V422.2ZM172.77,422.2V404.4h0.34V422.2ZM173.08,422.2V404.5h0.34V422.2ZM173.39,422.2V405.2h0.34V422.2ZM173.70,422.2V404.7h0.34V422.2ZM174.00,422.2V405.8h0.34V422.2ZM174.31,422.2V405.6h0.34V422.2ZM174.62,422.2V405.1h0.34V422.2ZM174.93,422.2V404.5h0.34V422.2ZM175.24,422.2V404.1h0.34V422.2ZM175.54,422.2V404.2h0.34V422.2ZM175.85,422.2V404.8h0.34V422.2ZM176.16,422.2V405.6h0.34V422.2ZM176.47,422.2V405.1h0.34V422.2ZM176.78,422.2V404.4h0.34V422.2ZM177.08,422.2V403.5h0.34V422.2ZM177.39,422.2V402.1h0.34V422.2ZM177.62,422.2V397.4h0.5V422.2ZM178.01,422.2V401.8h0.34V422.2ZM178.32,422.2V403.3h0.34V422.2ZM178.62,422.2V404.2h0.34V422.2ZM178.93,422.2V405.1h0.34V422.2ZM179.24,422.2V404.9h0.34V422.2ZM179.55,422.2V404.6h0.34V422.2ZM179.86,422.2V405.1h0.34V422.2ZM180.16,422.2V404.5h0.34V422.2ZM180.47,422.2V405.6h0.34V422.2ZM180.78,422.2V404.9h0.34V422.2ZM181.09,422.2V404.6h0.34V422.2ZM181.40,422.2V404.4h0.34V422.2ZM181.70,422.2V404.8h0.34V422.2ZM182.01,422.2V404.8h0.34V422.2ZM182.32,422.2V404.7h0.34V422.2ZM182.63,422.2V405.2h0.34V422.2ZM182.94,422.2V405.7h0.34V422.2ZM183.24,422.2V405.1h0.34V422.2ZM183.55,422.2V404.4h0.34V422.2ZM183.86,422.2V403.9h0.34V422.2ZM184.17,422.2V404.9h0.34V422.2ZM184.48,422.2V405.1h0.34V422.2ZM184.78,422.2V405.6h0.34V422.2ZM185.09,422.2V404.9h0.34V422.2ZM185.40,422.2V404.6h0.34V422.2ZM185.71,422.2V404.7h0.34V422.2ZM186.02,422.2V404.6h0.34V422.2ZM186.32,422.2V404.8h0.34V422.2ZM186.63,422.2V404.8h0.34V422.2ZM186.94,422.2V405.7h0.34V422.2ZM187.25,422.2V405.5h0.34V422.2ZM187.56,422.2V404.7h0.34V422.2ZM187.86,422.2V404.4h0.34V422.2ZM188.17,422.2V405.0h0.34V422.2ZM188.48,422.2V404.7h0.34V422.2ZM188.79,422.2V404.9h0.34V422.2ZM189.10,422.2V405.6h0.34V422.2ZM189.40,422.2V405.4h0.34V422.2ZM189.71,422.2V404.7h0.34V422.2ZM190.02,422.2V404.8h0.34V422.2ZM190.33,422.2V404.1h0.34V422.2ZM190.64,422.2V403.7h0.34V422.2ZM190.94,422.2V403.9h0.34V422.2ZM191.25,422.2V405.1h0.34V422.2ZM191.56,422.2V405.2h0.34V422.2ZM191.87,422.2V404.6h0.34V422.2ZM192.18,422.2V404.7h0.34V422.2ZM192.48,422.2V404.9h0.34V422.2ZM192.79,422.2V404.5h0.34V422.2ZM193.10,422.2V404.7h0.34V422.2ZM193.41,422.2V405.5h0.34V422.2ZM193.72,422.2V405.0h0.34V422.2ZM194.02,422.2V404.7h0.34V422.2ZM194.33,422.2V404.7h0.34V422.2ZM194.64,422.2V404.8h0.34V422.2ZM194.95,422.2V404.4h0.34V422.2ZM195.26,422.2V404.4h0.34V422.2ZM195.56,422.2V404.9h0.34V422.2ZM195.87,422.2V405.2h0.34V422.2ZM196.18,422.2V404.3h0.34V422.2ZM196.49,422.2V404.7h0.34V422.2ZM196.80,422.2V404.5h0.34V422.2ZM197.10,422.2V404.3h0.34V422.2ZM197.41,422.2V404.0h0.34V422.2ZM197.72,422.2V405.5h0.34V422.2ZM198.03,422.2V405.1h0.34V422.2ZM198.34,422.2V404.6h0.34V422.2ZM198.64,422.2V404.5h0.34V422.2ZM198.95,422.2V404.6h0.34V422.2ZM199.26,422.2V404.9h0.34V422.2ZM199.57,422.2V402.9h0.34V422.2ZM199.88,422.2V405.1h0.34V422.2ZM200.18,422.2V405.2h0.34V422.2ZM200.49,422.2V404.5h0.34V422.2ZM200.80,422.2V404.6h0.34V422.2ZM201.11,422.2V404.1h0.34V422.2ZM201.42,422.2V404.2h0.34V422.2ZM201.72,422.2V404.6h0.34V422.2ZM202.03,422.2V405.6h0.34V422.2ZM202.34,422.2V404.9h0.34V422.2ZM202.65,422.2V404.1h0.34V422.2ZM202.96,422.2V404.5h0.34V422.2ZM203.26,422.2V404.0h0.34V422.2ZM203.57,422.2V404.4h0.34V422.2ZM203.88,422.2V404.1h0.34V422.2ZM204.19,422.2V405.6h0.34V422.2ZM204.50,422.2V404.7h0.34V422.2ZM204.80,422.2V404.7h0.34V422.2ZM205.11,422.2V404.5h0.34V422.2ZM205.42,422.2V404.6h0.34V422.2ZM205.73,422.2V404.6h0.34V422.2ZM206.04,422.2V404.1h0.34V422.2ZM206.34,422.2V405.4h0.34V422.2ZM206.65,422.2V405.3h0.34V422.2ZM206.96,422.2V404.5h0.34V422.2ZM207.27,422.2V404.3h0.34V422.2ZM207.58,422.2V402.7h0.34V422.2ZM207.88,422.2V402.9h0.34V422.2ZM208.19,422.2V404.5h0.34V422.2ZM208.50,422.2V404.7h0.34V422.2ZM208.81,422.2V405.0h0.34V422.2ZM209.12,422.2V403.8h0.34V422.2ZM209.42,422.2V404.2h0.34V422.2ZM209.73,422.2V403.9h0.34V422.2ZM210.04,422.2V403.8h0.34V422.2ZM210.35,422.2V404.0h0.34V422.2ZM210.66,422.2V405.4h0.34V422.2ZM210.96,422.2V405.1h0.34V422.2ZM211.27,422.2V403.9h0.34V422.2ZM211.58,422.2V404.2h0.34V422.2ZM211.89,422.2V403.9h0.34V422.2ZM212.20,422.2V403.9h0.34V422.2ZM212.50,422.2V403.8h0.34V422.2ZM212.81,422.2V405.1h0.34V422.2ZM213.12,422.2V404.5h0.34V422.2ZM213.43,422.2V403.9h0.34V422.2ZM213.74,422.2V404.2h0.34V422.2ZM214.04,422.2V403.3h0.34V422.2ZM214.35,422.2V403.4h0.34V422.2ZM214.66,422.2V402.6h0.34V422.2ZM214.89,422.2V399.5h0.5V422.2ZM215.28,422.2V402.5h0.34V422.2ZM215.58,422.2V403.3h0.34V422.2ZM215.89,422.2V403.8h0.34V422.2ZM216.20,422.2V404.0h0.34V422.2ZM216.51,422.2V403.8h0.34V422.2ZM216.82,422.2V403.8h0.34V422.2ZM217.12,422.2V404.3h0.34V422.2ZM217.43,422.2V405.2h0.34V422.2ZM217.74,422.2V403.9h0.34V422.2ZM218.05,422.2V404.1h0.34V422.2ZM218.36,422.2V404.1h0.34V422.2ZM218.66,422.2V403.6h0.34V422.2ZM218.97,422.2V403.5h0.34V422.2ZM219.28,422.2V402.5h0.34V422.2ZM219.59,422.2V401.0h0.34V422.2ZM219.82,422.2V396.0h0.5V422.2ZM220.20,422.2V400.8h0.34V422.2ZM220.51,422.2V402.3h0.34V422.2ZM220.82,422.2V403.2h0.34V422.2ZM221.13,422.2V403.9h0.34V422.2ZM221.44,422.2V404.1h0.34V422.2ZM221.74,422.2V404.2h0.34V422.2ZM222.05,422.2V403.6h0.34V422.2ZM222.36,422.2V403.4h0.34V422.2ZM222.67,422.2V403.2h0.34V422.2ZM222.98,422.2V403.3h0.34V422.2ZM223.28,422.2V403.6h0.34V422.2ZM223.59,422.2V403.8h0.34V422.2ZM223.90,422.2V403.9h0.34V422.2ZM224.21,422.2V403.1h0.34V422.2ZM224.52,422.2V402.9h0.34V422.2ZM224.82,422.2V403.7h0.34V422.2ZM225.13,422.2V403.1h0.34V422.2ZM225.44,422.2V403.7h0.34V422.2ZM225.75,422.2V403.8h0.34V422.2ZM226.06,422.2V403.9h0.34V422.2ZM226.36,422.2V403.6h0.34V422.2ZM226.67,422.2V401.8h0.34V422.2ZM226.98,422.2V403.3h0.34V422.2ZM227.29,422.2V403.3h0.34V422.2ZM227.60,422.2V403.5h0.34V422.2ZM227.90,422.2V404.6h0.34V422.2ZM228.21,422.2V404.7h0.34V422.2ZM228.52,422.2V403.3h0.34V422.2ZM228.83,422.2V402.8h0.34V422.2ZM229.14,422.2V403.3h0.34V422.2ZM229.44,422.2V403.1h0.34V422.2ZM229.75,422.2V403.0h0.34V422.2ZM230.06,422.2V404.9h0.34V422.2ZM230.37,422.2V404.9h0.34V422.2ZM230.68,422.2V403.4h0.34V422.2ZM230.98,422.2V403.0h0.34V422.2ZM231.29,422.2V403.4h0.34V422.2ZM231.60,422.2V402.7h0.34V422.2ZM231.91,422.2V402.8h0.34V422.2ZM232.22,422.2V404.3h0.34V422.2ZM232.52,422.2V403.2h0.34V422.2ZM232.83,422.2V401.1h0.34V422.2ZM233.14,422.2V401.3h0.34V422.2ZM233.45,422.2V401.8h0.34V422.2ZM233.76,422.2V403.0h0.34V422.2ZM234.06,422.2V403.3h0.34V422.2ZM234.37,422.2V404.2h0.34V422.2ZM234.68,422.2V404.7h0.34V422.2ZM234.99,422.2V403.1h0.34V422.2ZM235.30,422.2V402.6h0.34V422.2ZM235.60,422.2V403.0h0.34V422.2ZM235.91,422.2V402.3h0.34V422.2ZM236.22,422.2V402.6h0.34V422.2ZM236.53,422.2V403.3h0.34V422.2ZM236.84,422.2V403.7h0.34V422.2ZM237.14,422.2V402.9h0.34V422.2ZM237.45,422.2V402.9h0.34V422.2ZM237.76,422.2V402.5h0.34V422.2ZM238.07,422.2V402.2h0.34V422.2ZM238.38,422.2V402.3h0.34V422.2ZM238.68,422.2V404.7h0.34V422.2ZM238.99,422.2V403.5h0.34V422.2ZM239.30,422.2V401.8h0.34V422.2ZM239.61,422.2V403.1h0.34V422.2ZM239.92,422.2V402.5h0.34V422.2ZM240.22,422.2V402.5h0.34V422.2ZM240.53,422.2V402.0h0.34V422.2ZM240.84,422.2V403.4h0.34V422.2ZM241.15,422.2V404.4h0.34V422.2ZM241.46,422.2V401.9h0.34V422.2ZM241.76,422.2V402.5h0.34V422.2ZM242.07,422.2V402.3h0.34V422.2ZM242.38,422.2V401.8h0.34V422.2ZM242.69,422.2V401.9h0.34V422.2ZM243.00,422.2V403.2h0.34V422.2ZM243.30,422.2V403.7h0.34V422.2ZM243.61,422.2V402.6h0.34V422.2ZM243.92,422.2V401.8h0.34V422.2ZM244.23,422.2V401.6h0.34V422.2ZM244.54,422.2V402.5h0.34V422.2ZM244.84,422.2V402.6h0.34V422.2ZM245.15,422.2V402.0h0.34V422.2ZM245.46,422.2V401.1h0.34V422.2ZM245.69,422.2V397.5h0.5V422.2ZM246.08,422.2V401.0h0.34V422.2ZM246.38,422.2V401.8h0.34V422.2ZM246.69,422.2V402.2h0.34V422.2ZM247.00,422.2V400.0h0.34V422.2ZM247.31,422.2V402.8h0.34V422.2ZM247.62,422.2V401.6h0.34V422.2ZM247.92,422.2V401.8h0.34V422.2ZM248.23,422.2V402.1h0.34V422.2ZM248.54,422.2V402.4h0.34V422.2ZM248.85,422.2V402.0h0.34V422.2ZM249.16,422.2V402.6h0.34V422.2ZM249.46,422.2V403.9h0.34V422.2ZM249.77,422.2V404.4h0.34V422.2ZM250.08,422.2V401.3h0.34V422.2ZM250.39,422.2V402.2h0.34V422.2ZM250.70,422.2V402.0h0.34V422.2ZM251.00,422.2V402.1h0.34V422.2ZM251.31,422.2V401.6h0.34V422.2ZM251.62,422.2V403.6h0.34V422.2ZM251.93,422.2V403.4h0.34V422.2ZM252.24,422.2V400.7h0.34V422.2ZM252.54,422.2V401.3h0.34V422.2ZM252.85,422.2V401.4h0.34V422.2ZM253.16,422.2V401.8h0.34V422.2ZM253.47,422.2V401.1h0.34V422.2ZM253.78,422.2V403.5h0.34V422.2ZM254.08,422.2V401.9h0.34V422.2ZM254.39,422.2V401.4h0.34V422.2ZM254.70,422.2V401.9h0.34V422.2ZM255.01,422.2V401.2h0.34V422.2ZM255.32,422.2V400.8h0.34V422.2ZM255.62,422.2V401.9h0.34V422.2ZM255.93,422.2V401.9h0.34V422.2ZM256.24,422.2V402.1h0.34V422.2ZM256.55,422.2V399.9h0.34V422.2ZM256.86,422.2V400.2h0.34V422.2ZM257.16,422.2V401.6h0.34V422.2ZM257.47,422.2V401.0h0.34V422.2ZM257.70,422.2V398.0h0.5V422.2ZM258.09,422.2V400.9h0.34V422.2ZM258.40,422.2V401.5h0.34V422.2ZM258.70,422.2V401.3h0.34V422.2ZM259.01,422.2V401.0h0.34V422.2ZM259.32,422.2V401.1h0.34V422.2ZM259.63,422.2V400.6h0.34V422.2ZM259.94,422.2V401.1h0.34V422.2ZM260.24,422.2V403.0h0.34V422.2ZM260.55,422.2V402.2h0.34V422.2ZM260.86,422.2V400.9h0.34V422.2ZM261.17,422.2V401.4h0.34V422.2ZM261.48,422.2V398.2h0.34V422.2ZM261.78,422.2V400.8h0.34V422.2ZM262.09,422.2V401.0h0.34V422.2ZM262.40,422.2V403.7h0.34V422.2ZM262.71,422.2V402.8h0.34V422.2ZM263.02,422.2V400.9h0.34V422.2ZM263.32,422.2V401.6h0.34V422.2ZM263.63,422.2V401.1h0.34V422.2ZM263.94,422.2V400.4h0.34V422.2ZM264.25,422.2V400.6h0.34V422.2ZM264.56,422.2V402.5h0.34V422.2ZM264.86,422.2V402.2h0.34V422.2ZM265.17,422.2V400.4h0.34V422.2ZM265.48,422.2V399.6h0.34V422.2ZM265.79,422.2V398.4h0.34V422.2ZM266.10,422.2V401.1h0.34V422.2ZM266.40,422.2V400.6h0.34V422.2ZM266.71,422.2V401.7h0.34V422.2ZM267.02,422.2V402.6h0.34V422.2ZM267.33,422.2V401.0h0.34V422.2ZM267.64,422.2V400.5h0.34V422.2ZM267.94,422.2V399.8h0.34V422.2ZM268.25,422.2V396.6h0.34V422.2ZM268.56,422.2V398.5h0.34V422.2ZM268.87,422.2V400.5h0.34V422.2ZM269.18,422.2V399.3h0.34V422.2ZM269.48,422.2V397.3h0.34V422.2ZM269.71,422.2V390.0h0.5V422.2ZM270.10,422.2V396.9h0.34V422.2ZM270.41,422.2V398.9h0.34V422.2ZM270.72,422.2V400.0h0.34V422.2ZM271.02,422.2V401.0h0.34V422.2ZM271.33,422.2V402.0h0.34V422.2ZM271.64,422.2V400.5h0.34V422.2ZM271.95,422.2V400.4h0.34V422.2ZM272.26,422.2V400.9h0.34V422.2ZM272.56,422.2V395.8h0.34V422.2ZM272.87,422.2V400.6h0.34V422.2ZM273.18,422.2V401.5h0.34V422.2ZM273.49,422.2V400.3h0.34V422.2ZM273.80,422.2V397.0h0.34V422.2ZM274.10,422.2V398.0h0.34V422.2ZM274.41,422.2V400.0h0.34V422.2ZM274.72,422.2V399.8h0.34V422.2ZM275.03,422.2V400.3h0.34V422.2ZM275.34,422.2V401.1h0.34V422.2ZM275.64,422.2V403.1h0.34V422.2ZM275.95,422.2V399.8h0.34V422.2ZM276.26,422.2V395.2h0.34V422.2ZM276.57,422.2V399.3h0.34V422.2ZM276.88,422.2V398.5h0.34V422.2ZM277.18,422.2V396.2h0.34V422.2ZM277.41,422.2V388.0h0.5V422.2ZM277.80,422.2V395.8h0.34V422.2ZM278.11,422.2V398.1h0.34V422.2ZM278.42,422.2V398.9h0.34V422.2ZM278.72,422.2V400.0h0.34V422.2ZM279.03,422.2V397.8h0.34V422.2ZM279.34,422.2V398.8h0.34V422.2ZM279.65,422.2V402.5h0.34V422.2ZM279.96,422.2V401.5h0.34V422.2ZM280.26,422.2V399.4h0.34V422.2ZM280.57,422.2V400.7h0.34V422.2ZM280.88,422.2V400.0h0.34V422.2ZM281.19,422.2V400.3h0.34V422.2ZM281.50,422.2V398.3h0.34V422.2ZM281.80,422.2V399.4h0.34V422.2ZM282.11,422.2V398.2h0.34V422.2ZM282.42,422.2V398.8h0.34V422.2ZM282.73,422.2V399.9h0.34V422.2ZM283.04,422.2V400.1h0.34V422.2ZM283.34,422.2V399.7h0.34V422.2ZM283.65,422.2V400.7h0.34V422.2ZM283.96,422.2V402.9h0.34V422.2ZM284.27,422.2V402.5h0.34V422.2ZM284.58,422.2V399.7h0.34V422.2ZM284.88,422.2V400.1h0.34V422.2ZM285.19,422.2V400.4h0.34V422.2ZM285.50,422.2V400.5h0.34V422.2ZM285.81,422.2V398.4h0.34V422.2ZM286.12,422.2V402.9h0.34V422.2ZM286.42,422.2V402.0h0.34V422.2ZM286.73,422.2V399.2h0.34V422.2ZM287.04,422.2V399.8h0.34V422.2ZM287.35,422.2V399.3h0.34V422.2ZM287.66,422.2V399.2h0.34V422.2ZM287.96,422.2V398.9h0.34V422.2ZM288.27,422.2V402.6h0.34V422.2ZM288.58,422.2V400.9h0.34V422.2ZM288.89,422.2V399.4h0.34V422.2ZM289.20,422.2V398.7h0.34V422.2ZM289.50,422.2V398.9h0.34V422.2ZM289.81,422.2V400.2h0.34V422.2ZM290.12,422.2V399.6h0.34V422.2ZM290.43,422.2V401.2h0.34V422.2ZM290.74,422.2V401.4h0.34V422.2ZM291.04,422.2V400.1h0.34V422.2ZM291.35,422.2V398.8h0.34V422.2ZM291.66,422.2V399.1h0.34V422.2ZM291.97,422.2V398.3h0.34V422.2ZM292.28,422.2V399.2h0.34V422.2ZM292.58,422.2V401.1h0.34V422.2ZM292.89,422.2V402.5h0.34V422.2ZM293.20,422.2V398.5h0.34V422.2ZM293.51,422.2V399.5h0.34V422.2ZM293.82,422.2V399.1h0.34V422.2ZM294.12,422.2V398.8h0.34V422.2ZM294.43,422.2V398.1h0.34V422.2ZM294.74,422.2V401.8h0.34V422.2ZM295.05,422.2V400.4h0.34V422.2ZM295.36,422.2V399.1h0.34V422.2ZM295.66,422.2V398.7h0.34V422.2ZM295.97,422.2V397.9h0.34V422.2ZM296.28,422.2V398.7h0.34V422.2ZM296.59,422.2V398.8h0.34V422.2ZM296.90,422.2V399.8h0.34V422.2ZM297.20,422.2V399.2h0.34V422.2ZM297.51,422.2V399.6h0.34V422.2ZM297.82,422.2V398.9h0.34V422.2ZM298.13,422.2V399.2h0.34V422.2ZM298.44,422.2V398.9h0.34V422.2ZM298.74,422.2V399.2h0.34V422.2ZM299.05,422.2V402.1h0.34V422.2ZM299.36,422.2V401.6h0.34V422.2ZM299.67,422.2V398.4h0.34V422.2ZM299.98,422.2V397.9h0.34V422.2ZM300.28,422.2V398.0h0.34V422.2ZM300.59,422.2V398.4h0.34V422.2ZM300.90,422.2V398.5h0.34V422.2ZM301.21,422.2V399.9h0.34V422.2ZM301.52,422.2V400.0h0.34V422.2ZM301.82,422.2V397.1h0.34V422.2ZM302.13,422.2V398.4h0.34V422.2ZM302.44,422.2V398.1h0.34V422.2ZM302.75,422.2V398.6h0.34V422.2ZM303.06,422.2V395.0h0.34V422.2ZM303.36,422.2V399.5h0.34V422.2ZM303.67,422.2V397.1h0.34V422.2ZM303.98,422.2V398.0h0.34V422.2ZM304.29,422.2V398.0h0.34V422.2ZM304.60,422.2V396.2h0.34V422.2ZM304.90,422.2V398.1h0.34V422.2ZM305.21,422.2V396.5h0.34V422.2ZM305.52,422.2V398.8h0.34V422.2ZM305.83,422.2V400.7h0.34V422.2ZM306.14,422.2V397.3h0.34V422.2ZM306.44,422.2V397.8h0.34V422.2ZM306.75,422.2V396.8h0.34V422.2ZM307.06,422.2V398.8h0.34V422.2ZM307.37,422.2V398.4h0.34V422.2ZM307.68,422.2V399.4h0.34V422.2ZM307.98,422.2V399.2h0.34V422.2ZM308.29,422.2V396.0h0.34V422.2ZM308.60,422.2V391.9h0.34V422.2ZM308.91,422.2V397.1h0.34V422.2ZM309.22,422.2V395.8h0.34V422.2ZM309.52,422.2V395.5h0.34V422.2ZM309.83,422.2V395.7h0.34V422.2ZM310.14,422.2V397.3h0.34V422.2ZM310.45,422.2V388.4h0.34V422.2ZM310.76,422.2V391.5h0.34V422.2ZM311.06,422.2V388.4h0.34V422.2ZM311.37,422.2V390.7h0.34V422.2ZM311.68,422.2V389.4h0.34V422.2ZM311.99,422.2V397.9h0.34V422.2ZM312.30,422.2V396.2h0.34V422.2ZM312.60,422.2V387.1h0.34V422.2ZM312.91,422.2V387.6h0.34V422.2ZM313.22,422.2V385.0h0.34V422.2ZM313.53,422.2V383.6h0.34V422.2ZM313.76,422.2V372.0h0.5V422.2ZM314.14,422.2V383.1h0.34V422.2ZM314.45,422.2V385.4h0.34V422.2ZM314.76,422.2V386.9h0.34V422.2ZM315.07,422.2V383.5h0.34V422.2ZM315.38,422.2V387.0h0.34V422.2ZM315.68,422.2V387.1h0.34V422.2ZM315.99,422.2V385.2h0.34V422.2ZM316.30,422.2V391.6h0.34V422.2ZM316.61,422.2V392.2h0.34V422.2ZM316.92,422.2V382.1h0.34V422.2ZM317.22,422.2V377.2h0.34V422.2ZM317.53,422.2V384.8h0.34V422.2ZM317.84,422.2V375.9h0.34V422.2ZM318.15,422.2V379.7h0.34V422.2ZM318.46,422.2V394.3h0.34V422.2ZM318.76,422.2V390.7h0.34V422.2ZM319.07,422.2V382.2h0.34V422.2ZM319.38,422.2V371.0h0.34V422.2ZM319.69,422.2V388.1h0.34V422.2ZM320.00,422.2V381.6h0.34V422.2ZM320.30,422.2V382.1h0.34V422.2ZM320.61,422.2V381.0h0.34V422.2ZM320.92,422.2V375.8h0.34V422.2ZM321.15,422.2V356.0h0.5V422.2ZM321.54,422.2V375.0h0.34V422.2ZM321.84,422.2V379.9h0.34V422.2ZM322.15,422.2V383.1h0.34V422.2ZM322.46,422.2V383.4h0.34V422.2ZM322.77,422.2V393.5h0.34V422.2ZM323.08,422.2V393.8h0.34V422.2ZM323.38,422.2V379.8h0.34V422.2ZM323.69,422.2V380.7h0.34V422.2ZM324.00,422.2V382.3h0.34V422.2ZM324.31,422.2V381.1h0.34V422.2ZM324.62,422.2V381.1h0.34V422.2ZM324.92,422.2V390.9h0.34V422.2ZM325.23,422.2V391.6h0.34V422.2ZM325.54,422.2V377.1h0.34V422.2ZM325.85,422.2V383.3h0.34V422.2ZM326.16,422.2V380.1h0.34V422.2ZM326.46,422.2V381.5h0.34V422.2ZM326.77,422.2V376.6h0.34V422.2ZM327.08,422.2V390.5h0.34V422.2ZM327.39,422.2V394.0h0.34V422.2ZM327.70,422.2V382.1h0.34V422.2ZM328.00,422.2V385.2h0.34V422.2ZM328.31,422.2V378.2h0.34V422.2ZM328.62,422.2V375.8h0.34V422.2ZM328.93,422.2V380.1h0.34V422.2ZM329.24,422.2V395.8h0.34V422.2ZM329.54,422.2V391.0h0.34V422.2ZM329.85,422.2V378.6h0.34V422.2ZM330.16,422.2V382.1h0.34V422.2ZM330.47,422.2V378.6h0.34V422.2ZM330.78,422.2V378.9h0.34V422.2ZM331.08,422.2V377.7h0.34V422.2ZM331.39,422.2V391.1h0.34V422.2ZM331.70,422.2V388.9h0.34V422.2ZM332.01,422.2V378.5h0.34V422.2ZM332.32,422.2V379.6h0.34V422.2ZM332.62,422.2V373.4h0.34V422.2ZM332.93,422.2V379.1h0.34V422.2ZM333.24,422.2V382.0h0.34V422.2ZM333.55,422.2V392.6h0.34V422.2ZM333.86,422.2V393.0h0.34V422.2ZM334.16,422.2V376.3h0.34V422.2ZM334.47,422.2V382.0h0.34V422.2ZM334.78,422.2V380.7h0.34V422.2ZM335.09,422.2V382.8h0.34V422.2ZM335.40,422.2V381.1h0.34V422.2ZM335.70,422.2V393.2h0.34V422.2ZM336.01,422.2V393.2h0.34V422.2ZM336.32,422.2V373.1h0.34V422.2ZM336.63,422.2V371.6h0.34V422.2ZM336.94,422.2V370.7h0.34V422.2ZM337.24,422.2V377.4h0.34V422.2ZM337.55,422.2V376.4h0.34V422.2ZM337.86,422.2V388.7h0.34V422.2ZM338.17,422.2V387.8h0.34V422.2ZM338.48,422.2V375.7h0.34V422.2ZM338.78,422.2V382.8h0.34V422.2ZM339.09,422.2V371.2h0.34V422.2ZM339.40,422.2V381.0h0.34V422.2ZM339.71,422.2V372.7h0.34V422.2ZM340.02,422.2V393.8h0.34V422.2ZM340.32,422.2V393.8h0.34V422.2ZM340.63,422.2V358.7h0.34V422.2ZM340.94,422.2V375.1h0.34V422.2ZM341.25,422.2V380.5h0.34V422.2ZM341.56,422.2V369.1h0.34V422.2ZM341.86,422.2V376.1h0.34V422.2ZM342.17,422.2V394.1h0.34V422.2ZM342.48,422.2V388.7h0.34V422.2ZM342.79,422.2V375.5h0.34V422.2ZM343.10,422.2V377.6h0.34V422.2ZM343.40,422.2V373.8h0.34V422.2ZM343.71,422.2V372.5h0.34V422.2ZM344.02,422.2V369.5h0.34V422.2ZM344.33,422.2V375.2h0.34V422.2ZM344.64,422.2V372.8h0.34V422.2ZM344.94,422.2V369.0h0.34V422.2ZM345.17,422.2V351.0h0.5V422.2ZM345.56,422.2V368.1h0.34V422.2ZM345.87,422.2V366.2h0.34V422.2ZM346.18,422.2V369.6h0.34V422.2ZM346.48,422.2V387.9h0.34V422.2ZM346.79,422.2V387.9h0.34V422.2ZM347.10,422.2V370.4h0.34V422.2ZM347.41,422.2V366.0h0.34V422.2ZM347.72,422.2V363.8h0.34V422.2ZM348.02,422.2V365.7h0.34V422.2ZM348.33,422.2V357.7h0.34V422.2ZM348.64,422.2V392.6h0.34V422.2ZM348.95,422.2V385.9h0.34V422.2ZM349.26,422.2V357.5h0.34V422.2ZM349.56,422.2V369.9h0.34V422.2ZM349.87,422.2V369.4h0.34V422.2ZM350.18,422.2V354.7h0.34V422.2ZM350.49,422.2V357.6h0.34V422.2ZM350.80,422.2V390.8h0.34V422.2ZM351.10,422.2V386.9h0.34V422.2ZM351.41,422.2V356.5h0.34V422.2ZM351.72,422.2V362.4h0.34V422.2ZM352.03,422.2V349.6h0.34V422.2ZM352.34,422.2V353.2h0.34V422.2ZM352.64,422.2V351.0h0.34V422.2ZM352.95,422.2V349.9h0.34V422.2ZM353.18,422.2V327.0h0.5V422.2ZM353.57,422.2V350.6h0.34V422.2ZM353.88,422.2V343.8h0.34V422.2ZM354.18,422.2V360.0h0.34V422.2ZM354.49,422.2V363.4h0.34V422.2ZM354.80,422.2V344.5h0.34V422.2ZM355.11,422.2V392.7h0.34V422.2ZM355.42,422.2V388.7h0.34V422.2ZM355.72,422.2V376.7h0.34V422.2ZM356.03,422.2V361.1h0.34V422.2ZM356.34,422.2V375.0h0.34V422.2ZM356.65,422.2V376.2h0.34V422.2ZM356.96,422.2V374.2h0.34V422.2ZM357.26,422.2V388.3h0.34V422.2ZM357.57,422.2V390.7h0.34V422.2ZM357.88,422.2V374.9h0.34V422.2ZM358.19,422.2V379.2h0.34V422.2ZM358.50,422.2V373.4h0.34V422.2ZM358.80,422.2V382.8h0.34V422.2ZM359.11,422.2V380.3h0.34V422.2ZM359.42,422.2V394.4h0.34V422.2ZM359.73,422.2V390.6h0.34V422.2ZM360.04,422.2V382.9h0.34V422.2ZM360.34,422.2V377.6h0.34V422.2ZM360.65,422.2V371.7h0.34V422.2ZM360.96,422.2V376.5h0.34V422.2ZM361.27,422.2V378.9h0.34V422.2ZM361.58,422.2V396.4h0.34V422.2ZM361.88,422.2V390.8h0.34V422.2ZM362.19,422.2V371.4h0.34V422.2ZM362.50,422.2V360.1h0.34V422.2ZM362.81,422.2V376.4h0.34V422.2ZM363.12,422.2V379.0h0.34V422.2ZM363.42,422.2V379.1h0.34V422.2ZM363.73,422.2V389.8h0.34V422.2ZM364.04,422.2V382.7h0.34V422.2ZM364.35,422.2V380.6h0.34V422.2ZM364.66,422.2V376.9h0.34V422.2ZM364.88,422.2V360.0h0.5V422.2ZM365.27,422.2V376.5h0.34V422.2ZM365.58,422.2V380.8h0.34V422.2ZM365.89,422.2V383.7h0.34V422.2ZM366.20,422.2V396.1h0.34V422.2ZM366.50,422.2V378.8h0.34V422.2ZM366.81,422.2V382.5h0.34V422.2ZM367.12,422.2V378.7h0.34V422.2ZM367.43,422.2V378.5h0.34V422.2ZM367.74,422.2V379.9h0.34V422.2ZM368.04,422.2V398.7h0.34V422.2ZM368.35,422.2V393.5h0.34V422.2ZM368.66,422.2V382.8h0.34V422.2ZM368.97,422.2V382.2h0.34V422.2ZM369.28,422.2V382.8h0.34V422.2ZM369.58,422.2V384.9h0.34V422.2ZM369.89,422.2V385.3h0.34V422.2ZM370.20,422.2V397.8h0.34V422.2ZM370.51,422.2V393.4h0.34V422.2ZM370.82,422.2V374.1h0.34V422.2ZM371.12,422.2V372.8h0.34V422.2ZM371.43,422.2V369.7h0.34V422.2ZM371.74,422.2V380.4h0.34V422.2ZM372.05,422.2V376.3h0.34V422.2ZM372.36,422.2V396.6h0.34V422.2ZM372.66,422.2V397.3h0.34V422.2ZM372.97,422.2V386.0h0.34V422.2ZM373.28,422.2V382.3h0.34V422.2ZM373.59,422.2V389.7h0.34V422.2ZM373.90,422.2V385.4h0.34V422.2ZM374.20,422.2V380.2h0.34V422.2ZM374.51,422.2V396.2h0.34V422.2ZM374.82,422.2V397.4h0.34V422.2ZM375.13,422.2V388.1h0.34V422.2ZM375.44,422.2V382.4h0.34V422.2ZM375.74,422.2V383.2h0.34V422.2ZM376.05,422.2V385.6h0.34V422.2ZM376.36,422.2V385.6h0.34V422.2ZM376.67,422.2V397.1h0.34V422.2ZM376.98,422.2V398.2h0.34V422.2ZM377.28,422.2V378.5h0.34V422.2ZM377.59,422.2V387.3h0.34V422.2ZM377.90,422.2V384.0h0.34V422.2ZM378.21,422.2V388.6h0.34V422.2ZM378.52,422.2V380.0h0.34V422.2ZM378.82,422.2V395.4h0.34V422.2ZM379.13,422.2V395.9h0.34V422.2ZM379.44,422.2V384.0h0.34V422.2ZM379.75,422.2V378.9h0.34V422.2ZM380.06,422.2V377.0h0.34V422.2ZM380.36,422.2V380.5h0.34V422.2ZM380.67,422.2V385.4h0.34V422.2ZM380.98,422.2V381.0h0.34V422.2ZM381.29,422.2V378.5h0.34V422.2ZM381.60,422.2V374.5h0.34V422.2ZM381.82,422.2V357.0h0.5V422.2ZM382.21,422.2V373.8h0.34V422.2ZM382.52,422.2V377.6h0.34V422.2ZM382.83,422.2V375.9h0.34V422.2ZM383.14,422.2V396.2h0.34V422.2ZM383.44,422.2V399.1h0.34V422.2ZM383.75,422.2V376.6h0.34V422.2ZM384.06,422.2V373.9h0.34V422.2ZM384.37,422.2V379.0h0.34V422.2ZM384.68,422.2V374.9h0.34V422.2ZM384.98,422.2V380.7h0.34V422.2ZM385.29,422.2V394.9h0.34V422.2ZM385.60,422.2V396.9h0.34V422.2ZM385.91,422.2V376.8h0.34V422.2ZM386.22,422.2V382.7h0.34V422.2ZM386.52,422.2V381.2h0.34V422.2ZM386.83,422.2V383.2h0.34V422.2ZM387.14,422.2V386.6h0.34V422.2ZM387.45,422.2V395.2h0.34V422.2ZM387.76,422.2V396.7h0.34V422.2ZM388.06,422.2V374.2h0.34V422.2ZM388.37,422.2V379.7h0.34V422.2ZM388.68,422.2V378.6h0.34V422.2ZM388.99,422.2V382.9h0.34V422.2ZM389.30,422.2V379.1h0.34V422.2ZM389.60,422.2V397.6h0.34V422.2ZM389.91,422.2V396.4h0.34V422.2ZM390.22,422.2V379.7h0.34V422.2ZM390.53,422.2V381.7h0.34V422.2ZM390.84,422.2V373.3h0.34V422.2ZM391.14,422.2V378.4h0.34V422.2ZM391.45,422.2V380.2h0.34V422.2ZM391.76,422.2V395.8h0.34V422.2ZM392.07,422.2V393.4h0.34V422.2ZM392.38,422.2V387.0h0.34V422.2ZM392.68,422.2V373.1h0.34V422.2ZM392.99,422.2V378.1h0.34V422.2ZM393.30,422.2V383.0h0.34V422.2ZM393.61,422.2V384.8h0.34V422.2ZM393.92,422.2V397.5h0.34V422.2ZM394.22,422.2V396.6h0.34V422.2ZM394.53,422.2V383.0h0.34V422.2ZM394.84,422.2V378.4h0.34V422.2ZM395.15,422.2V380.4h0.34V422.2ZM395.46,422.2V379.3h0.34V422.2ZM395.76,422.2V380.6h0.34V422.2ZM396.07,422.2V394.3h0.34V422.2ZM396.38,422.2V397.6h0.34V422.2ZM396.69,422.2V377.9h0.34V422.2ZM397.00,422.2V384.3h0.34V422.2ZM397.30,422.2V377.8h0.34V422.2ZM397.61,422.2V383.1h0.34V422.2ZM397.92,422.2V379.8h0.34V422.2ZM398.23,422.2V394.1h0.34V422.2ZM398.54,422.2V393.9h0.34V422.2ZM398.84,422.2V378.5h0.34V422.2ZM399.15,422.2V377.9h0.34V422.2ZM399.46,422.2V379.8h0.34V422.2ZM399.77,422.2V380.5h0.34V422.2ZM400.08,422.2V377.6h0.34V422.2ZM400.38,422.2V394.1h0.34V422.2ZM400.69,422.2V392.6h0.34V422.2ZM401.00,422.2V383.5h0.34V422.2ZM401.31,422.2V380.1h0.34V422.2ZM401.62,422.2V382.1h0.34V422.2ZM401.92,422.2V377.6h0.34V422.2ZM402.23,422.2V374.4h0.34V422.2ZM402.54,422.2V396.3h0.34V422.2ZM402.85,422.2V392.5h0.34V422.2ZM403.16,422.2V376.0h0.34V422.2ZM403.46,422.2V378.5h0.34V422.2ZM403.77,422.2V381.8h0.34V422.2ZM404.08,422.2V377.2h0.34V422.2ZM404.39,422.2V374.8h0.34V422.2ZM404.70,422.2V392.7h0.34V422.2ZM405.00,422.2V392.3h0.34V422.2ZM405.31,422.2V372.8h0.34V422.2ZM405.62,422.2V377.6h0.34V422.2ZM405.93,422.2V372.3h0.34V422.2ZM406.24,422.2V369.4h0.34V422.2ZM406.54,422.2V364.7h0.34V422.2ZM406.77,422.2V343.5h0.5V422.2ZM407.16,422.2V363.8h0.34V422.2ZM407.39,422.2V344.0h0.5V422.2ZM407.78,422.2V347.0h0.34V422.2ZM408.08,422.2V338.6h0.34V422.2ZM408.39,422.2V353.5h0.34V422.2ZM408.70,422.2V357.4h0.34V422.2ZM409.01,422.2V392.7h0.34V422.2ZM409.32,422.2V389.5h0.34V422.2ZM409.62,422.2V366.1h0.34V422.2ZM409.93,422.2V361.6h0.34V422.2ZM410.24,422.2V366.5h0.34V422.2ZM410.55,422.2V378.1h0.34V422.2ZM410.86,422.2V377.1h0.34V422.2ZM411.16,422.2V395.7h0.34V422.2ZM411.47,422.2V389.8h0.34V422.2ZM411.78,422.2V369.9h0.34V422.2ZM412.09,422.2V379.0h0.34V422.2ZM412.40,422.2V364.4h0.34V422.2ZM412.70,422.2V378.0h0.34V422.2ZM413.01,422.2V368.5h0.34V422.2ZM413.32,422.2V373.3h0.34V422.2ZM413.63,422.2V371.6h0.34V422.2ZM413.94,422.2V368.7h0.34V422.2ZM414.16,422.2V352.0h0.5V422.2ZM414.55,422.2V368.3h0.34V422.2ZM414.86,422.2V371.5h0.34V422.2ZM415.17,422.2V367.0h0.34V422.2ZM415.48,422.2V396.6h0.34V422.2ZM415.78,422.2V391.8h0.34V422.2ZM416.09,422.2V374.4h0.34V422.2ZM416.40,422.2V371.2h0.34V422.2ZM416.71,422.2V373.9h0.34V422.2ZM417.02,422.2V366.9h0.34V422.2ZM417.32,422.2V381.6h0.34V422.2ZM417.63,422.2V391.0h0.34V422.2ZM417.94,422.2V393.5h0.34V422.2ZM418.25,422.2V380.7h0.34V422.2ZM418.56,422.2V380.1h0.34V422.2ZM418.86,422.2V379.4h0.34V422.2ZM419.17,422.2V380.2h0.34V422.2ZM419.48,422.2V370.4h0.34V422.2ZM419.79,422.2V375.3h0.34V422.2ZM420.10,422.2V373.2h0.34V422.2ZM420.40,422.2V369.5h0.34V422.2ZM420.63,422.2V352.0h0.5V422.2ZM421.02,422.2V369.3h0.34V422.2ZM421.33,422.2V372.3h0.34V422.2ZM421.64,422.2V375.4h0.34V422.2ZM421.94,422.2V392.3h0.34V422.2ZM422.25,422.2V391.3h0.34V422.2ZM422.56,422.2V384.0h0.34V422.2ZM422.87,422.2V382.1h0.34V422.2ZM423.18,422.2V380.7h0.34V422.2ZM423.48,422.2V383.3h0.34V422.2ZM423.79,422.2V367.5h0.34V422.2ZM424.10,422.2V391.7h0.34V422.2ZM424.41,422.2V393.8h0.34V422.2ZM424.72,422.2V370.9h0.34V422.2ZM425.02,422.2V368.6h0.34V422.2ZM425.33,422.2V376.4h0.34V422.2ZM425.64,422.2V371.6h0.34V422.2ZM425.95,422.2V383.9h0.34V422.2ZM426.26,422.2V396.1h0.34V422.2ZM426.56,422.2V392.4h0.34V422.2ZM426.87,422.2V381.8h0.34V422.2ZM427.18,422.2V384.5h0.34V422.2ZM427.49,422.2V377.4h0.34V422.2ZM427.80,422.2V379.9h0.34V422.2ZM428.10,422.2V377.0h0.34V422.2ZM428.41,422.2V373.8h0.34V422.2ZM428.72,422.2V368.3h0.34V422.2ZM428.95,422.2V345.5h0.5V422.2ZM429.34,422.2V367.6h0.34V422.2ZM429.64,422.2V373.2h0.34V422.2ZM429.95,422.2V377.0h0.34V422.2ZM430.26,422.2V385.0h0.34V422.2ZM430.57,422.2V393.5h0.34V422.2ZM430.88,422.2V392.6h0.34V422.2ZM431.18,422.2V373.9h0.34V422.2ZM431.49,422.2V370.0h0.34V422.2ZM431.80,422.2V379.1h0.34V422.2ZM432.11,422.2V382.0h0.34V422.2ZM432.42,422.2V359.2h0.34V422.2ZM432.72,422.2V395.0h0.34V422.2ZM433.03,422.2V392.9h0.34V422.2ZM433.34,422.2V382.1h0.34V422.2ZM433.65,422.2V379.2h0.34V422.2ZM433.96,422.2V375.0h0.34V422.2ZM434.26,422.2V384.7h0.34V422.2ZM434.57,422.2V379.8h0.34V422.2ZM434.88,422.2V379.9h0.34V422.2ZM435.19,422.2V377.6h0.34V422.2ZM435.50,422.2V373.7h0.34V422.2ZM435.72,422.2V356.0h0.5V422.2ZM436.11,422.2V365.9h0.34V422.2ZM436.42,422.2V377.3h0.34V422.2ZM436.73,422.2V380.0h0.34V422.2ZM437.04,422.2V393.8h0.34V422.2ZM437.34,422.2V398.5h0.34V422.2ZM437.65,422.2V379.4h0.34V422.2ZM437.96,422.2V384.1h0.34V422.2ZM438.27,422.2V378.6h0.34V422.2ZM438.58,422.2V378.4h0.34V422.2ZM438.88,422.2V378.6h0.34V422.2ZM439.19,422.2V398.0h0.34V422.2ZM439.50,422.2V393.9h0.34V422.2ZM439.81,422.2V382.1h0.34V422.2ZM440.12,422.2V379.1h0.34V422.2ZM440.42,422.2V383.4h0.34V422.2ZM440.73,422.2V385.4h0.34V422.2ZM441.04,422.2V385.3h0.34V422.2ZM441.35,422.2V399.2h0.34V422.2ZM441.66,422.2V395.3h0.34V422.2ZM441.96,422.2V385.9h0.34V422.2ZM442.27,422.2V381.6h0.34V422.2ZM442.58,422.2V387.7h0.34V422.2ZM442.89,422.2V376.9h0.34V422.2ZM443.20,422.2V389.2h0.34V422.2ZM443.50,422.2V399.0h0.34V422.2ZM443.81,422.2V399.7h0.34V422.2ZM444.12,422.2V382.4h0.34V422.2ZM444.43,422.2V371.2h0.34V422.2ZM444.74,422.2V377.7h0.34V422.2ZM445.04,422.2V383.3h0.34V422.2ZM445.35,422.2V386.4h0.34V422.2ZM445.66,422.2V395.6h0.34V422.2ZM445.97,422.2V382.9h0.34V422.2ZM446.28,422.2V380.9h0.34V422.2ZM446.58,422.2V377.5h0.34V422.2ZM446.81,422.2V362.0h0.5V422.2ZM447.20,422.2V377.1h0.34V422.2ZM447.51,422.2V380.5h0.34V422.2ZM447.82,422.2V382.9h0.34V422.2ZM448.12,422.2V398.3h0.34V422.2ZM448.43,422.2V384.9h0.34V422.2ZM448.74,422.2V378.7h0.34V422.2ZM449.05,422.2V382.4h0.34V422.2ZM449.36,422.2V379.4h0.34V422.2ZM449.66,422.2V379.2h0.34V422.2ZM449.97,422.2V395.7h0.34V422.2ZM450.28,422.2V399.7h0.34V422.2ZM450.59,422.2V382.7h0.34V422.2ZM450.90,422.2V381.9h0.34V422.2ZM451.20,422.2V389.5h0.34V422.2ZM451.51,422.2V385.2h0.34V422.2ZM451.82,422.2V384.6h0.34V422.2ZM452.13,422.2V397.0h0.34V422.2ZM452.44,422.2V398.4h0.34V422.2ZM452.74,422.2V381.6h0.34V422.2ZM453.05,422.2V384.3h0.34V422.2ZM453.36,422.2V386.8h0.34V422.2ZM453.67,422.2V381.0h0.34V422.2ZM453.98,422.2V382.2h0.34V422.2ZM454.28,422.2V399.2h0.34V422.2ZM454.59,422.2V397.1h0.34V422.2ZM454.90,422.2V385.2h0.34V422.2ZM455.21,422.2V377.3h0.34V422.2ZM455.52,422.2V384.6h0.34V422.2ZM455.82,422.2V376.9h0.34V422.2ZM456.13,422.2V365.2h0.34V422.2ZM456.44,422.2V396.9h0.34V422.2ZM456.75,422.2V394.8h0.34V422.2ZM457.06,422.2V384.3h0.34V422.2ZM457.36,422.2V383.8h0.34V422.2ZM457.67,422.2V379.9h0.34V422.2ZM457.98,422.2V372.7h0.34V422.2ZM458.29,422.2V373.2h0.34V422.2ZM458.60,422.2V392.5h0.34V422.2ZM458.90,422.2V389.8h0.34V422.2ZM459.21,422.2V373.7h0.34V422.2ZM459.52,422.2V358.0h0.34V422.2ZM459.83,422.2V360.3h0.34V422.2ZM460.14,422.2V383.5h0.34V422.2ZM460.44,422.2V369.1h0.34V422.2ZM460.75,422.2V395.9h0.34V422.2ZM461.06,422.2V393.2h0.34V422.2ZM461.37,422.2V354.5h0.34V422.2ZM461.68,422.2V378.2h0.34V422.2ZM461.98,422.2V341.9h0.34V422.2ZM462.29,422.2V343.7h0.34V422.2ZM462.60,422.2V323.2h0.34V422.2ZM462.83,422.2V255.5h0.5V422.2ZM463.14,422.2V317.5h0.5V422.2ZM463.52,422.2V341.1h0.34V422.2ZM463.83,422.2V355.2h0.34V422.2ZM464.14,422.2V367.9h0.34V422.2ZM464.45,422.2V379.0h0.34V422.2ZM464.76,422.2V368.9h0.34V422.2ZM465.06,422.2V394.1h0.34V422.2ZM465.37,422.2V396.1h0.34V422.2ZM465.68,422.2V370.0h0.34V422.2ZM465.99,422.2V369.3h0.34V422.2ZM466.30,422.2V374.9h0.34V422.2ZM466.60,422.2V364.2h0.34V422.2ZM466.91,422.2V365.3h0.34V422.2ZM467.22,422.2V393.4h0.34V422.2ZM467.53,422.2V395.2h0.34V422.2ZM467.84,422.2V376.6h0.34V422.2ZM468.14,422.2V380.2h0.34V422.2ZM468.45,422.2V364.6h0.34V422.2ZM468.76,422.2V357.6h0.34V422.2ZM469.07,422.2V378.0h0.34V422.2ZM469.38,422.2V397.1h0.34V422.2ZM469.68,422.2V396.5h0.34V422.2ZM469.99,422.2V376.2h0.34V422.2ZM470.30,422.2V386.6h0.34V422.2ZM470.61,422.2V372.1h0.34V422.2ZM470.92,422.2V387.3h0.34V422.2ZM471.22,422.2V385.7h0.34V422.2ZM471.53,422.2V400.2h0.34V422.2ZM471.84,422.2V396.4h0.34V422.2ZM472.15,422.2V389.4h0.34V422.2ZM472.46,422.2V377.9h0.34V422.2ZM472.76,422.2V372.0h0.34V422.2ZM473.07,422.2V362.0h0.34V422.2ZM473.30,422.2V326.7h0.5V422.2ZM473.69,422.2V360.7h0.34V422.2ZM474.00,422.2V371.1h0.34V422.2ZM474.30,422.2V377.9h0.34V422.2ZM474.61,422.2V390.4h0.34V422.2ZM474.92,422.2V382.3h0.34V422.2ZM475.23,422.2V389.9h0.34V422.2ZM475.54,422.2V383.7h0.34V422.2ZM475.84,422.2V401.1h0.34V422.2ZM476.15,422.2V399.9h0.34V422.2ZM476.46,422.2V382.6h0.34V422.2ZM476.77,422.2V383.3h0.34V422.2ZM477.08,422.2V385.9h0.34V422.2ZM477.38,422.2V381.1h0.34V422.2ZM477.69,422.2V385.7h0.34V422.2ZM478.00,422.2V402.2h0.34V422.2ZM478.31,422.2V399.5h0.34V422.2ZM478.62,422.2V390.1h0.34V422.2ZM478.92,422.2V380.8h0.34V422.2ZM479.23,422.2V389.4h0.34V422.2ZM479.54,422.2V393.3h0.34V422.2ZM479.85,422.2V389.7h0.34V422.2ZM480.16,422.2V398.0h0.34V422.2ZM480.46,422.2V399.6h0.34V422.2ZM480.77,422.2V382.0h0.34V422.2ZM481.08,422.2V393.4h0.34V422.2ZM481.39,422.2V383.5h0.34V422.2ZM481.70,422.2V383.0h0.34V422.2ZM482.00,422.2V394.8h0.34V422.2ZM482.31,422.2V401.6h0.34V422.2ZM482.62,422.2V400.9h0.34V422.2ZM482.93,422.2V394.9h0.34V422.2ZM483.24,422.2V389.9h0.34V422.2ZM483.54,422.2V393.8h0.34V422.2ZM483.85,422.2V391.3h0.34V422.2ZM484.16,422.2V385.8h0.34V422.2ZM484.47,422.2V402.0h0.34V422.2ZM484.78,422.2V401.3h0.34V422.2ZM485.08,422.2V389.3h0.34V422.2ZM485.39,422.2V391.5h0.34V422.2ZM485.70,422.2V391.3h0.34V422.2ZM486.01,422.2V391.5h0.34V422.2ZM486.32,422.2V393.7h0.34V422.2ZM486.62,422.2V400.9h0.34V422.2ZM486.93,422.2V400.4h0.34V422.2ZM487.24,422.2V386.3h0.34V422.2ZM487.55,422.2V395.7h0.34V422.2ZM487.86,422.2V392.6h0.34V422.2ZM488.16,422.2V391.3h0.34V422.2ZM488.47,422.2V384.2h0.34V422.2ZM488.78,422.2V401.2h0.34V422.2ZM489.09,422.2V402.4h0.34V422.2ZM489.40,422.2V389.0h0.34V422.2ZM489.70,422.2V379.4h0.34V422.2ZM490.01,422.2V384.2h0.34V422.2ZM490.32,422.2V373.6h0.34V422.2ZM490.63,422.2V378.4h0.34V422.2ZM490.94,422.2V398.1h0.34V422.2ZM491.24,422.2V400.7h0.34V422.2ZM491.55,422.2V393.0h0.34V422.2ZM491.86,422.2V395.5h0.34V422.2ZM492.17,422.2V394.4h0.34V422.2ZM492.48,422.2V391.0h0.34V422.2ZM492.78,422.2V387.5h0.34V422.2ZM493.09,422.2V403.1h0.34V422.2ZM493.40,422.2V401.7h0.34V422.2ZM493.71,422.2V381.3h0.34V422.2ZM494.02,422.2V388.1h0.34V422.2ZM494.32,422.2V390.8h0.34V422.2ZM494.63,422.2V387.6h0.34V422.2ZM494.94,422.2V386.4h0.34V422.2ZM495.25,422.2V399.2h0.34V422.2ZM495.56,422.2V401.2h0.34V422.2ZM495.86,422.2V385.8h0.34V422.2ZM496.17,422.2V381.5h0.34V422.2ZM496.48,422.2V395.7h0.34V422.2ZM496.79,422.2V393.9h0.34V422.2ZM497.10,422.2V380.7h0.34V422.2ZM497.40,422.2V402.0h0.34V422.2ZM497.71,422.2V400.0h0.34V422.2ZM498.02,422.2V380.9h0.34V422.2ZM498.33,422.2V378.4h0.34V422.2ZM498.64,422.2V393.3h0.34V422.2ZM498.94,422.2V394.9h0.34V422.2ZM499.25,422.2V386.6h0.34V422.2ZM499.56,422.2V403.4h0.34V422.2ZM499.87,422.2V402.9h0.34V422.2ZM500.18,422.2V392.9h0.34V422.2ZM500.48,422.2V385.7h0.34V422.2ZM500.79,422.2V382.2h0.34V422.2ZM501.10,422.2V385.5h0.34V422.2ZM501.41,422.2V381.6h0.34V422.2ZM501.64,422.2V366.0h0.5V422.2ZM502.02,422.2V381.0h0.34V422.2ZM502.33,422.2V384.8h0.34V422.2ZM502.64,422.2V387.3h0.34V422.2ZM502.95,422.2V385.5h0.34V422.2ZM503.26,422.2V390.8h0.34V422.2ZM503.56,422.2V387.1h0.34V422.2ZM503.87,422.2V401.4h0.34V422.2ZM504.18,422.2V401.8h0.34V422.2ZM504.49,422.2V390.3h0.34V422.2ZM504.80,422.2V394.5h0.34V422.2ZM505.10,422.2V386.8h0.34V422.2ZM505.41,422.2V389.9h0.34V422.2ZM505.72,422.2V386.0h0.34V422.2ZM506.03,422.2V401.4h0.34V422.2ZM506.34,422.2V401.9h0.34V422.2ZM506.64,422.2V383.4h0.34V422.2ZM506.95,422.2V392.9h0.34V422.2ZM507.26,422.2V385.9h0.34V422.2ZM507.57,422.2V388.4h0.34V422.2ZM507.88,422.2V389.2h0.34V422.2ZM508.18,422.2V399.5h0.34V422.2ZM508.49,422.2V399.3h0.34V422.2ZM508.80,422.2V387.4h0.34V422.2ZM509.11,422.2V390.5h0.34V422.2ZM509.42,422.2V392.5h0.34V422.2ZM509.72,422.2V391.9h0.34V422.2ZM510.03,422.2V388.2h0.34V422.2ZM510.34,422.2V400.6h0.34V422.2ZM510.65,422.2V401.1h0.34V422.2ZM510.96,422.2V392.2h0.34V422.2ZM511.26,422.2V384.0h0.34V422.2ZM511.57,422.2V387.9h0.34V422.2ZM511.88,422.2V390.6h0.34V422.2ZM512.19,422.2V390.3h0.34V422.2ZM512.50,422.2V400.6h0.34V422.2ZM512.80,422.2V400.8h0.34V422.2ZM513.11,422.2V383.4h0.34V422.2ZM513.42,422.2V389.4h0.34V422.2ZM513.73,422.2V390.2h0.34V422.2ZM514.04,422.2V385.1h0.34V422.2ZM514.34,422.2V374.3h0.34V422.2ZM514.65,422.2V398.7h0.34V422.2ZM514.96,422.2V399.1h0.34V422.2ZM515.27,422.2V387.5h0.34V422.2ZM515.58,422.2V379.6h0.34V422.2ZM515.88,422.2V379.5h0.34V422.2ZM516.19,422.2V375.1h0.34V422.2ZM516.50,422.2V377.7h0.34V422.2ZM516.81,422.2V397.5h0.34V422.2ZM517.12,422.2V397.5h0.34V422.2ZM517.42,422.2V338.0h0.34V422.2ZM517.73,422.2V362.4h0.34V422.2ZM518.04,422.2V333.9h0.34V422.2ZM518.35,422.2V346.9h0.34V422.2ZM518.66,422.2V354.0h0.34V422.2ZM518.88,422.2V326.7h0.5V422.2ZM519.27,422.2V353.6h0.34V422.2ZM519.58,422.2V360.7h0.34V422.2ZM519.89,422.2V366.1h0.34V422.2ZM520.20,422.2V375.8h0.34V422.2ZM520.50,422.2V374.8h0.34V422.2ZM520.81,422.2V375.5h0.34V422.2ZM521.12,422.2V399.6h0.34V422.2ZM521.43,422.2V401.2h0.34V422.2ZM521.74,422.2V380.0h0.34V422.2ZM522.04,422.2V388.0h0.34V422.2ZM522.35,422.2V373.8h0.34V422.2ZM522.66,422.2V384.6h0.34V422.2ZM522.97,422.2V386.1h0.34V422.2ZM523.28,422.2V397.7h0.34V422.2ZM523.58,422.2V400.7h0.34V422.2ZM523.89,422.2V380.3h0.34V422.2ZM524.20,422.2V383.8h0.34V422.2ZM524.51,422.2V378.7h0.34V422.2ZM524.82,422.2V380.1h0.34V422.2ZM525.12,422.2V375.8h0.34V422.2ZM525.43,422.2V398.9h0.34V422.2ZM525.74,422.2V396.9h0.34V422.2ZM526.05,422.2V384.8h0.34V422.2ZM526.36,422.2V382.1h0.34V422.2ZM526.66,422.2V374.2h0.34V422.2ZM526.97,422.2V360.6h0.34V422.2ZM527.28,422.2V386.3h0.34V422.2ZM527.59,422.2V398.1h0.34V422.2ZM527.90,422.2V399.2h0.34V422.2ZM528.20,422.2V383.7h0.34V422.2ZM528.51,422.2V375.5h0.34V422.2ZM528.82,422.2V368.0h0.34V422.2ZM529.13,422.2V355.3h0.34V422.2ZM529.36,422.2V312.0h0.5V422.2ZM529.74,422.2V353.5h0.34V422.2ZM530.05,422.2V366.4h0.34V422.2ZM530.36,422.2V374.7h0.34V422.2ZM530.67,422.2V384.0h0.34V422.2ZM530.98,422.2V383.4h0.34V422.2ZM531.28,422.2V380.6h0.34V422.2ZM531.59,422.2V380.2h0.34V422.2ZM531.90,422.2V399.3h0.34V422.2ZM532.21,422.2V398.8h0.34V422.2ZM532.52,422.2V381.1h0.34V422.2ZM532.82,422.2V383.5h0.34V422.2ZM533.13,422.2V380.5h0.34V422.2ZM533.44,422.2V388.9h0.34V422.2ZM533.75,422.2V389.4h0.34V422.2ZM534.06,422.2V400.0h0.34V422.2ZM534.36,422.2V401.6h0.34V422.2ZM534.67,422.2V379.4h0.34V422.2ZM534.98,422.2V382.4h0.34V422.2ZM535.29,422.2V384.0h0.34V422.2ZM535.60,422.2V384.6h0.34V422.2ZM535.90,422.2V379.5h0.34V422.2ZM536.21,422.2V376.4h0.34V422.2ZM536.52,422.2V371.2h0.34V422.2ZM536.75,422.2V350.0h0.5V422.2ZM537.14,422.2V370.4h0.34V422.2ZM537.44,422.2V375.6h0.34V422.2ZM537.75,422.2V378.5h0.34V422.2ZM538.06,422.2V389.1h0.34V422.2ZM538.37,422.2V398.7h0.34V422.2ZM538.68,422.2V401.4h0.34V422.2ZM538.98,422.2V385.5h0.34V422.2ZM539.29,422.2V372.6h0.34V422.2ZM539.60,422.2V375.6h0.34V422.2ZM539.91,422.2V369.7h0.34V422.2ZM540.22,422.2V376.0h0.34V422.2ZM540.52,422.2V398.5h0.34V422.2ZM540.83,422.2V401.0h0.34V422.2ZM541.14,422.2V379.4h0.34V422.2ZM541.45,422.2V381.6h0.34V422.2ZM541.76,422.2V390.3h0.34V422.2ZM542.06,422.2V380.7h0.34V422.2ZM542.37,422.2V381.5h0.34V422.2ZM542.68,422.2V401.6h0.34V422.2ZM542.99,422.2V402.1h0.34V422.2ZM543.30,422.2V381.5h0.34V422.2ZM543.60,422.2V370.3h0.34V422.2ZM543.91,422.2V384.2h0.34V422.2ZM544.22,422.2V377.0h0.34V422.2ZM544.53,422.2V391.0h0.34V422.2ZM544.84,422.2V400.6h0.34V422.2ZM545.14,422.2V400.7h0.34V422.2ZM545.45,422.2V381.7h0.34V422.2ZM545.76,422.2V384.8h0.34V422.2ZM546.07,422.2V387.8h0.34V422.2ZM546.38,422.2V377.2h0.34V422.2ZM546.68,422.2V371.8h0.34V422.2ZM546.99,422.2V362.7h0.34V422.2ZM547.22,422.2V330.0h0.5V422.2ZM547.61,422.2V361.4h0.34V422.2ZM547.92,422.2V369.3h0.34V422.2ZM548.22,422.2V375.9h0.34V422.2ZM548.53,422.2V377.7h0.34V422.2ZM548.84,422.2V376.3h0.34V422.2ZM549.15,422.2V375.4h0.34V422.2ZM549.46,422.2V369.2h0.34V422.2ZM549.68,422.2V345.0h0.5V422.2ZM550.07,422.2V368.3h0.34V422.2ZM550.38,422.2V367.3h0.34V422.2ZM550.69,422.2V378.7h0.34V422.2ZM551.00,422.2V385.5h0.34V422.2ZM551.30,422.2V401.2h0.34V422.2ZM551.61,422.2V402.3h0.34V422.2ZM551.92,422.2V384.2h0.34V422.2ZM552.23,422.2V373.5h0.34V422.2ZM552.54,422.2V378.6h0.34V422.2ZM552.84,422.2V385.0h0.34V422.2ZM553.15,422.2V391.7h0.34V422.2ZM553.46,422.2V400.9h0.34V422.2ZM553.77,422.2V400.1h0.34V422.2ZM554.08,422.2V388.9h0.34V422.2ZM554.38,422.2V378.7h0.34V422.2ZM554.69,422.2V380.9h0.34V422.2ZM555.00,422.2V392.8h0.34V422.2ZM555.31,422.2V381.0h0.34V422.2ZM555.62,422.2V377.8h0.34V422.2ZM555.92,422.2V371.4h0.34V422.2ZM556.23,422.2V360.7h0.34V422.2ZM556.46,422.2V323.7h0.5V422.2ZM556.85,422.2V359.1h0.34V422.2ZM557.16,422.2V369.9h0.34V422.2ZM557.46,422.2V376.9h0.34V422.2ZM557.77,422.2V400.7h0.34V422.2ZM558.08,422.2V401.1h0.34V422.2ZM558.39,422.2V379.1h0.34V422.2ZM558.70,422.2V378.1h0.34V422.2ZM559.00,422.2V388.4h0.34V422.2ZM559.31,422.2V385.4h0.34V422.2ZM559.62,422.2V380.2h0.34V422.2ZM559.93,422.2V401.8h0.34V422.2ZM560.24,422.2V402.7h0.34V422.2ZM560.54,422.2V386.3h0.34V422.2ZM560.85,422.2V385.1h0.34V422.2ZM561.16,422.2V393.0h0.34V422.2ZM561.47,422.2V389.6h0.34V422.2ZM561.78,422.2V384.6h0.34V422.2ZM562.08,422.2V400.7h0.34V422.2ZM562.39,422.2V400.5h0.34V422.2ZM562.70,422.2V393.2h0.34V422.2ZM563.01,422.2V389.6h0.34V422.2ZM563.32,422.2V379.0h0.34V422.2ZM563.62,422.2V392.4h0.34V422.2ZM563.93,422.2V391.7h0.34V422.2ZM564.24,422.2V401.9h0.34V422.2ZM564.55,422.2V401.5h0.34V422.2ZM564.86,422.2V395.8h0.34V422.2ZM565.16,422.2V395.9h0.34V422.2ZM565.47,422.2V386.0h0.34V422.2ZM565.78,422.2V387.3h0.34V422.2ZM566.09,422.2V393.7h0.34V422.2ZM566.40,422.2V401.5h0.34V422.2ZM566.70,422.2V400.1h0.34V422.2ZM567.01,422.2V393.8h0.34V422.2ZM567.32,422.2V392.9h0.34V422.2ZM567.63,422.2V392.2h0.34V422.2ZM567.94,422.2V395.5h0.34V422.2ZM568.24,422.2V388.5h0.34V422.2ZM568.55,422.2V400.7h0.34V422.2ZM568.86,422.2V402.1h0.34V422.2ZM569.17,422.2V394.0h0.34V422.2ZM569.48,422.2V389.7h0.34V422.2ZM569.78,422.2V394.9h0.34V422.2ZM570.09,422.2V392.7h0.34V422.2ZM570.40,422.2V390.4h0.34V422.2ZM570.71,422.2V401.5h0.34V422.2ZM571.02,422.2V402.3h0.34V422.2ZM571.32,422.2V390.7h0.34V422.2ZM571.63,422.2V391.7h0.34V422.2ZM571.94,422.2V395.0h0.34V422.2ZM572.25,422.2V394.0h0.34V422.2ZM572.56,422.2V395.2h0.34V422.2ZM572.86,422.2V401.4h0.34V422.2ZM573.17,422.2V402.6h0.34V422.2ZM573.48,422.2V387.1h0.34V422.2ZM573.79,422.2V396.3h0.34V422.2ZM574.10,422.2V391.4h0.34V422.2ZM574.40,422.2V393.3h0.34V422.2ZM574.71,422.2V394.1h0.34V422.2ZM575.02,422.2V401.6h0.34V422.2ZM575.33,422.2V402.2h0.34V422.2ZM575.64,422.2V387.9h0.34V422.2ZM575.94,422.2V391.6h0.34V422.2ZM576.25,422.2V395.4h0.34V422.2ZM576.56,422.2V391.0h0.34V422.2ZM576.87,422.2V390.8h0.34V422.2ZM577.18,422.2V401.6h0.34V422.2ZM577.48,422.2V401.5h0.34V422.2ZM577.79,422.2V390.3h0.34V422.2ZM578.10,422.2V387.3h0.34V422.2ZM578.41,422.2V390.5h0.34V422.2ZM578.72,422.2V390.6h0.34V422.2ZM579.02,422.2V389.6h0.34V422.2ZM579.33,422.2V402.1h0.34V422.2ZM579.64,422.2V402.9h0.34V422.2ZM579.95,422.2V386.4h0.34V422.2ZM580.26,422.2V391.4h0.34V422.2ZM580.56,422.2V393.7h0.34V422.2ZM580.87,422.2V388.1h0.34V422.2ZM581.18,422.2V389.6h0.34V422.2ZM581.49,422.2V401.7h0.34V422.2ZM581.80,422.2V402.1h0.34V422.2ZM582.10,422.2V394.1h0.34V422.2ZM582.41,422.2V396.1h0.34V422.2ZM582.72,422.2V391.8h0.34V422.2ZM583.03,422.2V392.6h0.34V422.2ZM583.34,422.2V387.1h0.34V422.2ZM583.64,422.2V400.9h0.34V422.2ZM583.95,422.2V402.5h0.34V422.2ZM584.26,422.2V374.3h0.34V422.2ZM584.57,422.2V384.8h0.34V422.2ZM584.88,422.2V390.3h0.34V422.2ZM585.18,422.2V383.0h0.34V422.2ZM585.49,422.2V383.4h0.34V422.2ZM585.72,422.2V372.0h0.5V422.2ZM586.11,422.2V384.7h0.34V422.2ZM586.42,422.2V387.7h0.34V422.2ZM586.72,422.2V388.7h0.34V422.2ZM587.03,422.2V388.6h0.34V422.2ZM587.34,422.2V391.5h0.34V422.2ZM587.65,422.2V396.4h0.34V422.2ZM587.96,422.2V401.4h0.34V422.2ZM588.26,422.2V401.9h0.34V422.2ZM588.57,422.2V391.5h0.34V422.2ZM588.88,422.2V393.7h0.34V422.2ZM589.19,422.2V391.4h0.34V422.2ZM589.50,422.2V391.8h0.34V422.2ZM589.80,422.2V394.8h0.34V422.2ZM590.11,422.2V402.8h0.34V422.2ZM590.42,422.2V401.6h0.34V422.2ZM590.73,422.2V387.6h0.34V422.2ZM591.04,422.2V389.3h0.34V422.2ZM591.34,422.2V394.2h0.34V422.2ZM591.65,422.2V388.5h0.34V422.2ZM591.96,422.2V387.3h0.34V422.2ZM592.27,422.2V400.4h0.34V422.2ZM592.58,422.2V401.6h0.34V422.2ZM592.88,422.2V385.6h0.34V422.2ZM593.19,422.2V391.6h0.34V422.2ZM593.50,422.2V395.0h0.34V422.2ZM593.81,422.2V391.6h0.34V422.2ZM594.12,422.2V397.5h0.34V422.2ZM594.42,422.2V401.9h0.34V422.2ZM594.73,422.2V402.4h0.34V422.2ZM595.04,422.2V397.3h0.34V422.2ZM595.35,422.2V393.9h0.34V422.2ZM595.66,422.2V396.1h0.34V422.2ZM595.96,422.2V390.6h0.34V422.2ZM596.27,422.2V390.1h0.34V422.2ZM596.58,422.2V402.9h0.34V422.2ZM596.89,422.2V403.1h0.34V422.2ZM597.20,422.2V390.3h0.34V422.2ZM597.50,422.2V382.0h0.34V422.2ZM597.81,422.2V379.3h0.34V422.2ZM598.12,422.2V388.9h0.34V422.2ZM598.43,422.2V392.1h0.34V422.2ZM598.74,422.2V402.6h0.34V422.2ZM599.04,422.2V401.3h0.34V422.2ZM599.35,422.2V390.6h0.34V422.2ZM599.66,422.2V388.4h0.34V422.2ZM599.97,422.2V391.8h0.34V422.2ZM600.28,422.2V387.3h0.34V422.2ZM600.58,422.2V395.4h0.34V422.2ZM600.89,422.2V402.4h0.34V422.2ZM601.20,422.2V403.5h0.34V422.2ZM601.51,422.2V396.1h0.34V422.2ZM601.82,422.2V394.0h0.34V422.2ZM602.12,422.2V392.2h0.34V422.2ZM602.43,422.2V379.2h0.34V422.2ZM602.74,422.2V383.0h0.34V422.2ZM603.05,422.2V400.5h0.34V422.2ZM603.36,422.2V402.2h0.34V422.2ZM603.66,422.2V386.8h0.34V422.2ZM603.97,422.2V394.1h0.34V422.2ZM604.28,422.2V394.0h0.34V422.2ZM604.59,422.2V392.0h0.34V422.2ZM604.90,422.2V397.8h0.34V422.2ZM605.20,422.2V401.6h0.34V422.2ZM605.51,422.2V402.1h0.34V422.2ZM605.82,422.2V392.6h0.34V422.2ZM606.13,422.2V391.2h0.34V422.2ZM606.44,422.2V393.0h0.34V422.2ZM606.74,422.2V395.0h0.34V422.2ZM607.05,422.2V393.2h0.34V422.2ZM607.36,422.2V401.8h0.34V422.2ZM607.67,422.2V403.0h0.34V422.2ZM607.98,422.2V391.9h0.34V422.2ZM608.28,422.2V391.7h0.34V422.2ZM608.59,422.2V394.5h0.34V422.2ZM608.90,422.2V396.7h0.34V422.2ZM609.21,422.2V396.0h0.34V422.2ZM609.52,422.2V403.0h0.34V422.2ZM609.82,422.2V400.7h0.34V422.2ZM610.13,422.2V393.1h0.34V422.2ZM610.44,422.2V394.7h0.34V422.2ZM610.75,422.2V394.5h0.34V422.2ZM611.06,422.2V390.0h0.34V422.2ZM611.36,422.2V391.6h0.34V422.2ZM611.67,422.2V403.0h0.34V422.2ZM611.98,422.2V402.4h0.34V422.2ZM612.29,422.2V385.2h0.34V422.2ZM612.60,422.2V375.8h0.34V422.2ZM612.90,422.2V386.5h0.34V422.2ZM613.21,422.2V392.3h0.34V422.2ZM613.52,422.2V389.2h0.34V422.2ZM613.83,422.2V403.1h0.34V422.2ZM614.14,422.2V402.1h0.34V422.2ZM614.44,422.2V391.4h0.34V422.2ZM614.75,422.2V390.8h0.34V422.2ZM615.06,422.2V390.8h0.34V422.2ZM615.37,422.2V388.8h0.34V422.2ZM615.68,422.2V390.2h0.34V422.2ZM615.98,422.2V400.5h0.34V422.2ZM616.29,422.2V400.6h0.34V422.2ZM616.60,422.2V385.0h0.34V422.2ZM616.91,422.2V390.1h0.34V422.2ZM617.22,422.2V395.2h0.34V422.2ZM617.52,422.2V390.6h0.34V422.2ZM617.83,422.2V392.8h0.34V422.2ZM618.14,422.2V400.5h0.34V422.2ZM618.45,422.2V401.5h0.34V422.2ZM618.76,422.2V391.4h0.34V422.2ZM619.06,422.2V393.6h0.34V422.2ZM619.37,422.2V390.7h0.34V422.2ZM619.68,422.2V390.7h0.34V422.2ZM619.99,422.2V388.3h0.34V422.2ZM620.30,422.2V402.3h0.34V422.2ZM620.60,422.2V400.5h0.34V422.2ZM620.91,422.2V392.5h0.34V422.2ZM621.22,422.2V394.1h0.34V422.2ZM621.53,422.2V389.9h0.34V422.2ZM621.84,422.2V387.7h0.34V422.2ZM622.14,422.2V388.6h0.34V422.2ZM622.45,422.2V401.6h0.34V422.2ZM622.76,422.2V402.6h0.34V422.2ZM623.07,422.2V393.6h0.34V422.2ZM623.38,422.2V390.5h0.34V422.2ZM623.68,422.2V386.4h0.34V422.2ZM623.99,422.2V394.6h0.34V422.2ZM624.30,422.2V392.9h0.34V422.2ZM624.61,422.2V402.3h0.34V422.2ZM624.92,422.2V400.1h0.34V422.2ZM625.22,422.2V387.1h0.34V422.2ZM625.53,422.2V385.4h0.34V422.2ZM625.84,422.2V388.7h0.34V422.2ZM626.15,422.2V393.5h0.34V422.2ZM626.46,422.2V388.8h0.34V422.2ZM626.76,422.2V402.3h0.34V422.2ZM627.07,422.2V399.9h0.34V422.2ZM627.38,422.2V388.4h0.34V422.2ZM627.69,422.2V385.9h0.34V422.2ZM628.00,422.2V392.5h0.34V422.2ZM628.30,422.2V390.9h0.34V422.2ZM628.61,422.2V389.1h0.34V422.2ZM628.92,422.2V400.8h0.34V422.2ZM629.23,422.2V400.2h0.34V422.2ZM629.54,422.2V388.0h0.34V422.2ZM629.84,422.2V390.0h0.34V422.2ZM630.15,422.2V390.3h0.34V422.2ZM630.46,422.2V392.4h0.34V422.2ZM630.77,422.2V393.8h0.34V422.2ZM631.08,422.2V400.0h0.34V422.2ZM631.38,422.2V399.8h0.34V422.2ZM631.69,422.2V393.2h0.34V422.2ZM632.00,422.2V391.6h0.34V422.2ZM632.31,422.2V389.0h0.34V422.2ZM632.62,422.2V387.4h0.34V422.2ZM632.92,422.2V387.2h0.34V422.2ZM633.23,422.2V400.0h0.34V422.2ZM633.54,422.2V400.7h0.34V422.2ZM633.85,422.2V387.8h0.34V422.2ZM634.16,422.2V385.8h0.34V422.2ZM634.46,422.2V389.9h0.34V422.2ZM634.77,422.2V388.6h0.34V422.2ZM635.08,422.2V394.3h0.34V422.2ZM635.39,422.2V400.8h0.34V422.2ZM635.70,422.2V399.3h0.34V422.2ZM636.00,422.2V389.3h0.34V422.2ZM636.31,422.2V386.4h0.34V422.2ZM636.62,422.2V387.1h0.34V422.2ZM636.93,422.2V388.3h0.34V422.2ZM637.24,422.2V391.3h0.34V422.2ZM637.54,422.2V399.6h0.34V422.2ZM637.85,422.2V401.6h0.34V422.2ZM638.16,422.2V386.7h0.34V422.2ZM638.47,422.2V387.5h0.34V422.2ZM638.78,422.2V393.1h0.34V422.2ZM639.08,422.2V388.1h0.34V422.2ZM639.39,422.2V389.0h0.34V422.2ZM639.70,422.2V399.3h0.34V422.2ZM640.01,422.2V398.8h0.34V422.2ZM640.32,422.2V382.2h0.34V422.2ZM640.62,422.2V391.5h0.34V422.2ZM640.93,422.2V387.1h0.34V422.2ZM641.24,422.2V393.4h0.34V422.2ZM641.55,422.2V386.0h0.34V422.2ZM641.86,422.2V398.9h0.34V422.2ZM642.16,422.2V400.9h0.34V422.2ZM642.47,422.2V384.0h0.34V422.2ZM642.78,422.2V385.1h0.34V422.2ZM643.09,422.2V388.7h0.34V422.2ZM643.40,422.2V386.4h0.34V422.2ZM643.70,422.2V388.0h0.34V422.2ZM644.01,422.2V400.4h0.34V422.2ZM644.32,422.2V401.7h0.34V422.2ZM644.63,422.2V387.1h0.34V422.2ZM644.94,422.2V389.1h0.34V422.2ZM645.24,422.2V389.4h0.34V422.2ZM645.55,422.2V381.5h0.34V422.2ZM645.86,422.2V381.1h0.34V422.2ZM646.17,422.2V400.9h0.34V422.2ZM646.48,422.2V400.1h0.34V422.2ZM646.78,422.2V385.6h0.34V422.2ZM647.09,422.2V385.7h0.34V422.2ZM647.40,422.2V379.0h0.34V422.2ZM647.71,422.2V381.2h0.34V422.2ZM648.02,422.2V380.7h0.34V422.2ZM648.32,422.2V399.4h0.34V422.2ZM648.63,422.2V400.1h0.34V422.2ZM648.94,422.2V382.8h0.34V422.2ZM649.25,422.2V389.4h0.34V422.2ZM649.56,422.2V372.3h0.34V422.2ZM649.86,422.2V373.1h0.34V422.2ZM650.17,422.2V387.1h0.34V422.2ZM650.48,422.2V401.2h0.34V422.2ZM650.79,422.2V398.8h0.34V422.2ZM651.10,422.2V387.0h0.34V422.2ZM651.40,422.2V388.4h0.34V422.2ZM651.71,422.2V381.5h0.34V422.2ZM652.02,422.2V380.5h0.34V422.2ZM652.33,422.2V383.2h0.34V422.2ZM652.64,422.2V399.4h0.34V422.2ZM652.94,422.2V400.6h0.34V422.2ZM653.25,422.2V388.5h0.34V422.2ZM653.56,422.2V381.6h0.34V422.2ZM653.87,422.2V388.9h0.34V422.2ZM654.18,422.2V386.3h0.34V422.2ZM654.48,422.2V389.0h0.34V422.2ZM654.79,422.2V400.0h0.34V422.2ZM655.10,422.2V397.1h0.34V422.2ZM655.41,422.2V386.7h0.34V422.2ZM655.72,422.2V381.0h0.34V422.2ZM656.02,422.2V384.7h0.34V422.2ZM656.33,422.2V373.5h0.34V422.2ZM656.64,422.2V352.9h0.34V422.2ZM656.95,422.2V394.4h0.34V422.2ZM657.26,422.2V394.2h0.34V422.2ZM657.56,422.2V364.4h0.34V422.2ZM657.87,422.2V374.3h0.34V422.2ZM658.18,422.2V368.9h0.34V422.2ZM658.49,422.2V377.0h0.34V422.2ZM658.80,422.2V382.8h0.34V422.2ZM659.10,422.2V397.8h0.34V422.2ZM659.41,422.2V400.4h0.34V422.2ZM659.72,422.2V380.4h0.34V422.2ZM660.03,422.2V384.0h0.34V422.2ZM660.34,422.2V375.3h0.34V422.2ZM660.64,422.2V374.9h0.34V422.2ZM660.95,422.2V383.3h0.34V422.2ZM661.26,422.2V396.7h0.34V422.2ZM661.57,422.2V399.9h0.34V422.2ZM661.88,422.2V375.2h0.34V422.2ZM662.18,422.2V375.7h0.34V422.2ZM662.49,422.2V337.7h0.34V422.2ZM662.80,422.2V379.9h0.34V422.2ZM663.11,422.2V376.8h0.34V422.2ZM663.42,422.2V395.6h0.34V422.2ZM663.72,422.2V398.5h0.34V422.2ZM664.03,422.2V373.5h0.34V422.2ZM664.34,422.2V371.5h0.34V422.2ZM664.65,422.2V377.0h0.34V422.2ZM664.96,422.2V375.3h0.34V422.2ZM665.26,422.2V376.5h0.34V422.2ZM665.57,422.2V398.8h0.34V422.2ZM665.88,422.2V368.5h0.34V422.2ZM666.19,422.2V358.3h0.34V422.2ZM666.50,422.2V364.3h0.34V422.2ZM666.72,422.2V354.0h0.5V422.2ZM667.11,422.2V365.8h0.34V422.2ZM667.42,422.2V337.5h0.34V422.2ZM667.73,422.2V366.3h0.34V422.2ZM668.04,422.2V396.9h0.34V422.2ZM668.34,422.2V361.9h0.34V422.2ZM668.65,422.2V373.0h0.34V422.2ZM668.96,422.2V375.6h0.34V422.2ZM669.27,422.2V381.5h0.34V422.2ZM669.58,422.2V370.6h0.34V422.2ZM669.88,422.2V368.3h0.34V422.2ZM670.19,422.2V368.5h0.34V422.2ZM670.50,422.2V353.8h0.34V422.2ZM670.73,422.2V358.0h0.5V422.2ZM671.12,422.2V368.6h0.34V422.2ZM671.42,422.2V369.2h0.34V422.2ZM671.73,422.2V369.8h0.34V422.2ZM672.04,422.2V394.8h0.34V422.2ZM672.35,422.2V399.2h0.34V422.2ZM672.66,422.2V379.5h0.34V422.2ZM672.96,422.2V372.7h0.34V422.2ZM673.27,422.2V369.1h0.34V422.2ZM673.58,422.2V376.7h0.34V422.2ZM673.89,422.2V361.0h0.34V422.2ZM674.20,422.2V397.7h0.34V422.2ZM674.50,422.2V395.5h0.34V422.2ZM674.81,422.2V381.6h0.34V422.2ZM675.12,422.2V379.1h0.34V422.2ZM675.43,422.2V381.7h0.34V422.2ZM675.74,422.2V372.6h0.34V422.2ZM676.04,422.2V366.2h0.34V422.2ZM676.35,422.2V398.7h0.34V422.2ZM676.66,422.2V399.9h0.34V422.2ZM676.97,422.2V366.8h0.34V422.2ZM677.28,422.2V371.8h0.34V422.2ZM677.58,422.2V382.5h0.34V422.2ZM677.89,422.2V351.9h0.34V422.2ZM678.20,422.2V379.3h0.34V422.2ZM678.51,422.2V398.7h0.34V422.2ZM678.82,422.2V372.9h0.34V422.2ZM679.12,422.2V371.9h0.34V422.2ZM679.43,422.2V370.3h0.34V422.2ZM679.66,422.2V357.0h0.5V422.2ZM680.05,422.2V370.2h0.34V422.2ZM680.36,422.2V372.0h0.34V422.2ZM680.66,422.2V373.3h0.34V422.2ZM680.97,422.2V398.9h0.34V422.2ZM681.28,422.2V369.3h0.34V422.2ZM681.59,422.2V382.1h0.34V422.2ZM681.90,422.2V366.2h0.34V422.2ZM682.20,422.2V364.8h0.34V422.2ZM682.51,422.2V379.1h0.34V422.2ZM682.82,422.2V389.8h0.34V422.2ZM683.13,422.2V397.4h0.34V422.2ZM683.44,422.2V375.1h0.34V422.2ZM683.74,422.2V372.1h0.34V422.2ZM684.05,422.2V380.6h0.34V422.2ZM684.36,422.2V373.5h0.34V422.2ZM684.67,422.2V372.6h0.34V422.2ZM684.98,422.2V395.1h0.34V422.2ZM685.28,422.2V397.0h0.34V422.2ZM685.59,422.2V372.6h0.34V422.2ZM685.90,422.2V385.8h0.34V422.2ZM686.21,422.2V387.4h0.34V422.2ZM686.52,422.2V381.8h0.34V422.2ZM686.82,422.2V375.8h0.34V422.2ZM687.13,422.2V396.7h0.34V422.2ZM687.44,422.2V396.5h0.34V422.2ZM687.75,422.2V377.3h0.34V422.2ZM688.06,422.2V352.2h0.34V422.2ZM688.36,422.2V355.9h0.34V422.2ZM688.67,422.2V374.6h0.34V422.2ZM688.98,422.2V380.5h0.34V422.2ZM689.29,422.2V399.0h0.34V422.2ZM689.60,422.2V397.4h0.34V422.2ZM689.90,422.2V380.4h0.34V422.2ZM690.21,422.2V380.1h0.34V422.2ZM690.52,422.2V375.2h0.34V422.2ZM690.83,422.2V368.8h0.34V422.2ZM691.14,422.2V359.3h0.34V422.2ZM691.44,422.2V393.0h0.34V422.2ZM691.75,422.2V394.8h0.34V422.2ZM692.06,422.2V382.2h0.34V422.2ZM692.37,422.2V365.6h0.34V422.2ZM692.68,422.2V369.7h0.34V422.2ZM692.98,422.2V372.4h0.34V422.2ZM693.29,422.2V376.2h0.34V422.2ZM693.60,422.2V394.8h0.34V422.2ZM693.91,422.2V399.8h0.34V422.2ZM694.22,422.2V383.4h0.34V422.2ZM694.52,422.2V373.7h0.34V422.2ZM694.83,422.2V372.9h0.34V422.2ZM695.14,422.2V381.2h0.34V422.2ZM695.45,422.2V380.9h0.34V422.2ZM695.76,422.2V399.5h0.34V422.2ZM696.06,422.2V398.5h0.34V422.2ZM696.37,422.2V385.1h0.34V422.2ZM696.68,422.2V372.3h0.34V422.2ZM696.99,422.2V382.8h0.34V422.2ZM697.30,422.2V373.3h0.34V422.2ZM697.60,422.2V377.9h0.34V422.2ZM697.91,422.2V394.4h0.34V422.2ZM698.22,422.2V394.3h0.34V422.2ZM698.53,422.2V367.6h0.34V422.2ZM698.84,422.2V382.5h0.34V422.2ZM699.14,422.2V388.1h0.34V422.2ZM699.45,422.2V382.8h0.34V422.2ZM699.76,422.2V377.9h0.34V422.2ZM700.07,422.2V396.8h0.34V422.2ZM700.38,422.2V395.1h0.34V422.2ZM700.68,422.2V374.4h0.34V422.2ZM700.99,422.2V377.5h0.34V422.2ZM701.30,422.2V374.2h0.34V422.2ZM701.61,422.2V386.0h0.34V422.2ZM701.92,422.2V372.7h0.34V422.2ZM702.22,422.2V398.1h0.34V422.2ZM702.53,422.2V399.5h0.34V422.2ZM702.84,422.2V377.8h0.34V422.2ZM703.15,422.2V370.7h0.34V422.2ZM703.46,422.2V369.7h0.34V422.2ZM703.68,422.2V356.0h0.5V422.2ZM704.07,422.2V362.2h0.34V422.2ZM704.38,422.2V375.9h0.34V422.2ZM704.69,422.2V378.2h0.34V422.2ZM705.00,422.2V383.3h0.34V422.2ZM705.30,422.2V385.2h0.34V422.2ZM705.61,422.2V384.2h0.34V422.2ZM705.92,422.2V373.9h0.34V422.2ZM706.23,422.2V379.4h0.34V422.2ZM706.54,422.2V398.3h0.34V422.2ZM706.84,422.2V398.9h0.34V422.2ZM707.15,422.2V386.6h0.34V422.2ZM707.46,422.2V378.2h0.34V422.2ZM707.77,422.2V378.8h0.34V422.2ZM708.08,422.2V375.0h0.34V422.2ZM708.38,422.2V375.5h0.34V422.2ZM708.69,422.2V396.2h0.34V422.2ZM709.00,422.2V398.1h0.34V422.2ZM709.31,422.2V379.6h0.34V422.2ZM709.62,422.2V385.8h0.34V422.2ZM709.92,422.2V379.0h0.34V422.2ZM710.23,422.2V374.9h0.34V422.2ZM710.54,422.2V382.3h0.34V422.2ZM710.85,422.2V394.1h0.34V422.2ZM711.16,422.2V394.2h0.34V422.2ZM711.46,422.2V377.9h0.34V422.2ZM711.77,422.2V373.4h0.34V422.2ZM712.08,422.2V382.8h0.34V422.2ZM712.39,422.2V378.1h0.34V422.2ZM712.70,422.2V380.7h0.34V422.2ZM713.00,422.2V376.2h0.34V422.2ZM713.31,422.2V371.1h0.34V422.2ZM713.62,422.2V362.7h0.34V422.2ZM713.85,422.2V331.7h0.5V422.2ZM714.24,422.2V361.4h0.34V422.2ZM714.54,422.2V369.8h0.34V422.2ZM714.85,422.2V375.3h0.34V422.2ZM715.16,422.2V398.0h0.34V422.2ZM715.47,422.2V398.8h0.34V422.2ZM715.78,422.2V385.3h0.34V422.2ZM716.08,422.2V377.8h0.34V422.2ZM716.39,422.2V379.0h0.34V422.2ZM716.70,422.2V382.6h0.34V422.2ZM717.01,422.2V381.8h0.34V422.2ZM717.32,422.2V397.2h0.34V422.2ZM717.62,422.2V395.7h0.34V422.2ZM717.93,422.2V383.4h0.34V422.2ZM718.24,422.2V381.1h0.34V422.2ZM718.55,422.2V378.0h0.34V422.2ZM718.86,422.2V376.0h0.34V422.2ZM719.16,422.2V375.4h0.34V422.2ZM719.47,422.2V397.2h0.34V422.2ZM719.78,422.2V395.6h0.34V422.2ZM720.09,422.2V387.3h0.34V422.2ZM720.40,422.2V374.0h0.34V422.2ZM720.70,422.2V383.3h0.34V422.2ZM721.01,422.2V374.2h0.34V422.2ZM721.32,422.2V386.3h0.34V422.2ZM721.63,422.2V397.9h0.34V422.2ZM721.94,422.2V393.7h0.34V422.2ZM722.24,422.2V376.3h0.34V422.2ZM722.55,422.2V383.9h0.34V422.2ZM722.86,422.2V380.3h0.34V422.2ZM723.17,422.2V379.8h0.34V422.2ZM723.48,422.2V380.2h0.34V422.2ZM723.78,422.2V397.5h0.34V422.2ZM724.09,422.2V393.7h0.34V422.2ZM724.40,422.2V377.4h0.34V422.2ZM724.71,422.2V374.2h0.34V422.2ZM725.02,422.2V381.0h0.34V422.2ZM725.32,422.2V379.2h0.34V422.2ZM725.63,422.2V375.6h0.34V422.2ZM725.94,422.2V392.7h0.34V422.2ZM726.25,422.2V387.9h0.34V422.2ZM726.56,422.2V367.3h0.34V422.2ZM726.86,422.2V379.3h0.34V422.2ZM727.17,422.2V385.3h0.34V422.2ZM727.48,422.2V377.7h0.34V422.2ZM727.79,422.2V378.3h0.34V422.2ZM728.10,422.2V397.7h0.34V422.2ZM728.40,422.2V394.5h0.34V422.2ZM728.71,422.2V385.4h0.34V422.2ZM729.02,422.2V381.3h0.34V422.2ZM729.33,422.2V379.1h0.34V422.2ZM729.64,422.2V381.6h0.34V422.2ZM729.94,422.2V376.5h0.34V422.2ZM730.25,422.2V396.5h0.34V422.2ZM730.56,422.2V398.3h0.34V422.2ZM730.87,422.2V379.4h0.34V422.2ZM731.18,422.2V367.1h0.34V422.2ZM731.48,422.2V380.3h0.34V422.2ZM731.79,422.2V369.7h0.34V422.2ZM732.10,422.2V378.7h0.34V422.2ZM732.41,422.2V395.2h0.34V422.2ZM732.72,422.2V392.3h0.34V422.2ZM733.02,422.2V365.3h0.34V422.2ZM733.33,422.2V362.6h0.34V422.2ZM733.64,422.2V380.1h0.34V422.2ZM733.95,422.2V368.6h0.34V422.2ZM734.26,422.2V383.0h0.34V422.2ZM734.56,422.2V393.4h0.34V422.2ZM734.87,422.2V394.5h0.34V422.2ZM735.18,422.2V372.6h0.34V422.2ZM735.49,422.2V377.7h0.34V422.2ZM735.80,422.2V374.6h0.34V422.2ZM736.10,422.2V372.6h0.34V422.2ZM736.41,422.2V372.4h0.34V422.2ZM736.72,422.2V392.4h0.34V422.2ZM737.03,422.2V393.0h0.34V422.2ZM737.34,422.2V359.6h0.34V422.2ZM737.64,422.2V365.8h0.34V422.2ZM737.95,422.2V374.2h0.34V422.2ZM738.26,422.2V373.9h0.34V422.2ZM738.57,422.2V370.6h0.34V422.2ZM738.80,422.2V353.6h0.5V422.2ZM739.18,422.2V370.0h0.34V422.2ZM739.49,422.2V373.3h0.34V422.2ZM739.80,422.2V375.4h0.34V422.2ZM740.11,422.2V373.7h0.34V422.2ZM740.42,422.2V374.5h0.34V422.2ZM740.72,422.2V373.5h0.34V422.2ZM741.03,422.2V398.4h0.34V422.2ZM741.34,422.2V394.6h0.34V422.2ZM741.65,422.2V381.0h0.34V422.2ZM741.96,422.2V372.5h0.34V422.2ZM742.26,422.2V366.9h0.34V422.2ZM742.57,422.2V296.6h0.34V422.2Z" fill="#08997e" fill-rule="nonzero" stroke="none"/>
<rect x="0" y="406.6" width="743.2" height="15.6" fill="#08997e"/>

<rect x="463.05" y="255.5" width="0.6" height="66" fill="#08997e" fill-opacity="0.55"/>
<!-- red dashed level -->
<line x1="-0.1" y1="296.8" x2="760" y2="296.8" stroke="#e4626e" stroke-width="1.3" stroke-dasharray="4.3 4.875"/>

<!-- pink markers -->
<g fill="#6d4a55" fill-opacity="0.75">
<rect x="277.9" y="388.3" width="0.8" height="8"/>
<rect x="313.7" y="372.2" width="0.8" height="10.5"/>
<rect x="321.1" y="356.2" width="0.8" height="10"/>
</g>
<g fill="#f0808c" fill-opacity="0.8">
<circle cx="277.7" cy="389.2" r="6.85"/>
<circle cx="312.3" cy="375.4" r="6.9"/>
<circle cx="320.5" cy="358.6" r="6.9"/>
</g>

<!-- title -->
<text x="239.7" y="277.1" font-size="11.9" fill="#27a08a" stroke="#27a08a" stroke-width="0.68" stroke-linejoin="round" textLength="195.5" lengthAdjust="spacing">Stablecoin(ERC-20) Exchange Inflow</text>

<!-- watermark -->
<g fill="#087060">
<circle cx="671.6" cy="401.7" r="3.7"/>
<path d="M666.5,398.2 A3.5,3.5 0 0 0 666.5,405.2 Z"/>
<text x="679.3" y="404.5" font-size="9.9" textLength="63.6" lengthAdjust="spacingAndGlyphs" stroke="#087060" stroke-width="0.45">CryptoQuant</text>
</g>
<circle cx="673.3" cy="403.5" r="1.0" fill="#08997e"/>

<!-- TV logo -->
<circle cx="11.9" cy="410.3" r="7.15" fill="#fff"/>
<path d="M7.3,408.2h3.5v4.4h-1.45v-3.0h-2.05z M14.0,408.2h2.4l-2.0,4.4h-2.3z" fill="#111"/>
<circle cx="12.05" cy="409.05" r="0.85" fill="#111"/>

<!-- top header -->
<g font-size="6.5" fill="#6b6e78">
<text x="4" y="9.7" textLength="151.6" lengthAdjust="spacingAndGlyphs">Bitcoin: Price &amp; Volume - Spot, Binance, BTC-USDT</text>
<circle cx="157.6" cy="6.3" r="0.55"/>
<text x="161.2" y="9.7" textLength="3" lengthAdjust="spacingAndGlyphs">1</text>
<path transform="translate(164.6,10.2) scale(1.25)" d="M0.3,-4.4h1.6v1.5h-1.6zM3.0,-4.6v2.4M0.5,-1.7h2.5v0.8h-2.5v0.9h2.7" fill="none" stroke="#6b6e78" stroke-width="0.45"/>
<rect x="171.9" y="7.1" width="1.5" height="0.7"/>
<text x="176" y="9.7" textLength="36.6" lengthAdjust="spacingAndGlyphs">CryptoQuant</text>
</g>
<circle cx="223.6" cy="7.4" r="3" fill="#08997e" fill-opacity="0.22"/>
<circle cx="223.6" cy="7.4" r="1.5" fill="#08997e"/>
<g font-size="5.7" fill="#23262e" stroke="#23262e" stroke-width="0.12">
<text x="234" y="9.6" textLength="21.4" lengthAdjust="spacingAndGlyphs">75692.89</text>
<text x="258.6" y="9.6" textLength="43.4" lengthAdjust="spacingAndGlyphs">+6320.88 (+9.11%)</text>
</g>

<!-- bottom header -->
<g font-size="5.3" fill="#6b6e78">
<text x="3.6" y="245.7" textLength="153" lengthAdjust="spacingAndGlyphs">All Stablecoins(ERC20): Exchange Inflow (Total) - All Exchanges</text>
<text x="158.4" y="245.5">·</text>
<text x="162.4" y="245.7" textLength="30" lengthAdjust="spacingAndGlyphs">CryptoQuant</text>
</g>
<g font-size="5.3" fill="#2f9f8c">
<text x="196.4" y="245.7" textLength="35.6" lengthAdjust="spacingAndGlyphs">9393996177.80</text>
<text x="235" y="245.7" textLength="66" lengthAdjust="spacingAndGlyphs">+6407215093.86 (+214.53%)</text>
</g>

<!-- question circle -->
<circle cx="743.4" cy="231" r="3.45" fill="#fff" stroke="#e05563" stroke-width="0.85"/>
<text x="743.4" y="232.6" font-size="4.4" fill="#e2545f" text-anchor="middle">?</text>

<!-- price axis labels -->
<g font-size="4.5" fill="#8b8e97">
<text x="763.5" y="3.0">110000.00</text>
<text x="763.5" y="14.7">90000.00</text>
<text x="763.5" y="30.3">70000.00</text>
<text x="763.5" y="46.3">54000.00</text>
<text x="763.5" y="61.6">42000.00</text>
<text x="763.5" y="74.7">34000.00</text>
<text x="763.5" y="86.7">28000.00</text>
<text x="763.5" y="101.5">22000.00</text>
<text x="763.5" y="113.6">18000.00</text>
<text x="763.5" y="128.5">14000.00</text>
<text x="763.5" y="143.4">11000.00</text>
<text x="763.5" y="155.7">9000.00</text>
<text x="763.5" y="167.8">7400.00</text>
<text x="763.5" y="181.6">5900.00</text>
<text x="763.5" y="195.8">4700.00</text>
<text x="763.5" y="210.2">3700.00</text>
<text x="763.5" y="223.3">3000.00</text>
<text x="763.5" y="236.1">2440.00</text>
<text x="763.5" y="244.2">14000000000.00</text>
<text x="763.5" y="256.0">13000000000.00</text>
<text x="763.5" y="267.7">12000000000.00</text>
<text x="763.5" y="279.5">11000000000.00</text>
<text x="763.5" y="291.3">10000000000.00</text>
<text x="763.5" y="314.9">8000000000.00</text>
<text x="763.5" y="326.6">7000000000.00</text>
<text x="763.5" y="338.4">6000000000.00</text>
<text x="763.5" y="350.2">5000000000.00</text>
<text x="763.5" y="362.0">4000000000.00</text>
<text x="763.5" y="373.8">3000000000.00</text>
<text x="763.5" y="385.5">2000000000.00</text>
<text x="763.5" y="397.3">1000000000.00</text>
<text x="763.5" y="409.0">0.00</text>
<text x="763.5" y="421.1">-1000000000.00</text>
</g>

<!-- value tags -->
<rect x="760.8" y="21.1" width="23.6" height="5.6" fill="#0a0a0a"/>
<text x="763.3" y="25.7" font-size="4.5" font-weight="bold" fill="#fff">75692.89</text>
<rect x="760.7" y="293.1" width="35.1" height="6.8" fill="#119a83"/>
<text x="763.9" y="298.3" font-size="4.4" font-weight="bold" fill="#fff" fill-opacity="0.92" textLength="30" lengthAdjust="spacingAndGlyphs">9393996177.80</text>
<rect x="760.7" y="299.9" width="35.1" height="5.9" fill="#e03a50"/>
<text x="763.9" y="304.5" font-size="4.4" font-weight="bold" fill="#fff" fill-opacity="0.92" textLength="30" lengthAdjust="spacingAndGlyphs">9353801052.45</text>

<!-- time axis -->
<g font-size="5.2" fill="#5b5f69">
<text x="8.5" y="429.6">5</text><path transform="translate(11.5,429.7) scale(1.22)" d="M0.3,-3.6h1.5v1h-1.5zM2.6,-3.8v2M0.2,-2.1h2.4M1.2,-2.1v0.5M0.4,-1.2h2.2v0.6h-2.2v0.6h2.3" fill="none" stroke="#5b5f69" stroke-width="0.42"/>
<text x="45.5" y="429.6">9</text><path transform="translate(48.5,429.7) scale(1.22)" d="M0.3,-3.6h1.5v1h-1.5zM2.6,-3.8v2M0.2,-2.1h2.4M1.2,-2.1v0.5M0.4,-1.2h2.2v0.6h-2.2v0.6h2.3" fill="none" stroke="#5b5f69" stroke-width="0.42"/>
<text x="87.0" y="429.6" text-anchor="middle">2019</text>
<text x="120.0" y="429.6">5</text><path transform="translate(123.0,429.7) scale(1.22)" d="M0.3,-3.6h1.5v1h-1.5zM2.6,-3.8v2M0.2,-2.1h2.4M1.2,-2.1v0.5M0.4,-1.2h2.2v0.6h-2.2v0.6h2.3" fill="none" stroke="#5b5f69" stroke-width="0.42"/>
<text x="157.5" y="429.6">9</text><path transform="translate(160.5,429.7) scale(1.22)" d="M0.3,-3.6h1.5v1h-1.5zM2.6,-3.8v2M0.2,-2.1h2.4M1.2,-2.1v0.5M0.4,-1.2h2.2v0.6h-2.2v0.6h2.3" fill="none" stroke="#5b5f69" stroke-width="0.42"/>
<text x="199.0" y="429.6" text-anchor="middle">2020</text>
<text x="232.0" y="429.6">5</text><path transform="translate(235.0,429.7) scale(1.22)" d="M0.3,-3.6h1.5v1h-1.5zM2.6,-3.8v2M0.2,-2.1h2.4M1.2,-2.1v0.5M0.4,-1.2h2.2v0.6h-2.2v0.6h2.3" fill="none" stroke="#5b5f69" stroke-width="0.42"/>
<text x="270.0" y="429.6">9</text><path transform="translate(273.0,429.7) scale(1.22)" d="M0.3,-3.6h1.5v1h-1.5zM2.6,-3.8v2M0.2,-2.1h2.4M1.2,-2.1v0.5M0.4,-1.2h2.2v0.6h-2.2v0.6h2.3" fill="none" stroke="#5b5f69" stroke-width="0.42"/>
<text x="311.0" y="429.6" text-anchor="middle">2021</text>
<text x="345.0" y="429.6">5</text><path transform="translate(348.0,429.7) scale(1.22)" d="M0.3,-3.6h1.5v1h-1.5zM2.6,-3.8v2M0.2,-2.1h2.4M1.2,-2.1v0.5M0.4,-1.2h2.2v0.6h-2.2v0.6h2.3" fill="none" stroke="#5b5f69" stroke-width="0.42"/>
<text x="382.0" y="429.6">9</text><path transform="translate(385.0,429.7) scale(1.22)" d="M0.3,-3.6h1.5v1h-1.5zM2.6,-3.8v2M0.2,-2.1h2.4M1.2,-2.1v0.5M0.4,-1.2h2.2v0.6h-2.2v0.6h2.3" fill="none" stroke="#5b5f69" stroke-width="0.42"/>
<text x="423.0" y="429.6" text-anchor="middle">2022</text>
<text x="456.5" y="429.6">5</text><path transform="translate(459.5,429.7) scale(1.22)" d="M0.3,-3.6h1.5v1h-1.5zM2.6,-3.8v2M0.2,-2.1h2.4M1.2,-2.1v0.5M0.4,-1.2h2.2v0.6h-2.2v0.6h2.3" fill="none" stroke="#5b5f69" stroke-width="0.42"/>
<text x="494.0" y="429.6">9</text><path transform="translate(497.0,429.7) scale(1.22)" d="M0.3,-3.6h1.5v1h-1.5zM2.6,-3.8v2M0.2,-2.1h2.4M1.2,-2.1v0.5M0.4,-1.2h2.2v0.6h-2.2v0.6h2.3" fill="none" stroke="#5b5f69" stroke-width="0.42"/>
<text x="535.5" y="429.6" text-anchor="middle">2023</text>
<text x="569.0" y="429.6">5</text><path transform="translate(572.0,429.7) scale(1.22)" d="M0.3,-3.6h1.5v1h-1.5zM2.6,-3.8v2M0.2,-2.1h2.4M1.2,-2.1v0.5M0.4,-1.2h2.2v0.6h-2.2v0.6h2.3" fill="none" stroke="#5b5f69" stroke-width="0.42"/>
<text x="606.5" y="429.6">9</text><path transform="translate(609.5,429.7) scale(1.22)" d="M0.3,-3.6h1.5v1h-1.5zM2.6,-3.8v2M0.2,-2.1h2.4M1.2,-2.1v0.5M0.4,-1.2h2.2v0.6h-2.2v0.6h2.3" fill="none" stroke="#5b5f69" stroke-width="0.42"/>
<text x="648.0" y="429.6" text-anchor="middle">2024</text>
<text x="681.5" y="429.6">5</text><path transform="translate(684.5,429.7) scale(1.22)" d="M0.3,-3.6h1.5v1h-1.5zM2.6,-3.8v2M0.2,-2.1h2.4M1.2,-2.1v0.5M0.4,-1.2h2.2v0.6h-2.2v0.6h2.3" fill="none" stroke="#5b5f69" stroke-width="0.42"/>
<text x="719.0" y="429.6">9</text><path transform="translate(722.0,429.7) scale(1.22)" d="M0.3,-3.6h1.5v1h-1.5zM2.6,-3.8v2M0.2,-2.1h2.4M1.2,-2.1v0.5M0.4,-1.2h2.2v0.6h-2.2v0.6h2.3" fill="none" stroke="#5b5f69" stroke-width="0.42"/>
<text x="754.9" y="429.6">20</text>
</g>
<rect x="761.1" y="423.2" width="39" height="12" fill="#fff"/>
<circle cx="780.5" cy="428.2" r="2.6" fill="none" stroke="#555" stroke-width="0.7"/>
<circle cx="780.5" cy="428.2" r="1.0" fill="none" stroke="#555" stroke-width="0.6"/>
</svg>
</body></html>
